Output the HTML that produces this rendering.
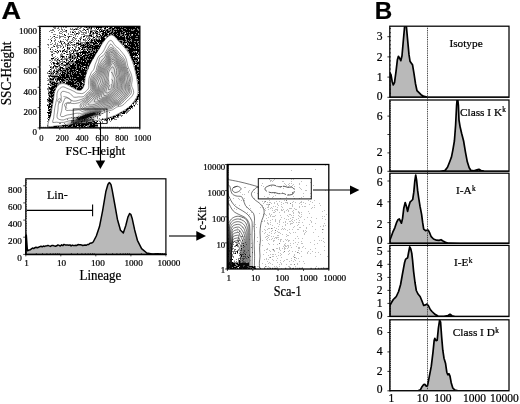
<!DOCTYPE html>
<html><head><meta charset="utf-8"><title>Figure</title>
<style>html,body{margin:0;padding:0;background:#fff}svg{display:block}text{stroke:#000;stroke-width:.22px}</style></head>
<body>
<svg width="520" height="404" viewBox="0 0 520 404">
<rect width="520" height="404" fill="#fff"/>
<text transform="translate(1.5 18.8) scale(1.09 1)" font-size="24.8" font-family='"Liberation Sans", "DejaVu Sans", sans-serif' font-weight="bold">A</text>
<text transform="translate(374.8 18.5)" font-size="24.2" font-family='"Liberation Sans", "DejaVu Sans", sans-serif' font-weight="bold">B</text>
<clipPath id="cA1"><rect x="39.8" y="26.4" width="100" height="101.5"/></clipPath>
<clipPath id="blobclip"><path d="M48 126C47 124.2 50 119 50.8 115C51.6 111 52.3 106.1 53 102C53.7 97.9 54.2 93.2 55 90.5C55.8 87.8 57 86.6 58 85.5C59 84.4 59.8 84 61 83.7C62.2 83.4 63.7 83.5 65 83.8C66.3 84.1 67.2 84.7 68.8 85.5C70.2 86.3 72.1 87.7 74 88.5C75.9 89.3 78.4 90.8 80 90.5C81.6 90.2 82.7 88.6 83.5 87C84.3 85.4 84.5 82.9 84.8 81C85.1 79.1 84.8 78.1 85.6 75.5C86.4 72.9 88.1 68.4 89.4 65.5C90.7 62.6 92 60.5 93.5 58C95 55.5 96.3 53.4 98.1 50.5C99.9 47.6 102.2 43.1 104.4 40.5C106.6 37.9 109.2 34.9 111.5 34.9C113.8 34.9 115.5 37.9 118.1 40.5C120.7 43.1 124.8 47.6 126.9 50.5C129.1 53.4 129.9 55.5 131 58C132.1 60.5 132.9 62.6 133.8 65.5C134.6 68.4 135.6 72.1 136.2 75.5C136.9 78.9 137.6 82.8 137.8 86C138 89.2 138.6 92 137.6 95C136.6 98 134 101.6 132 104C130 106.4 128.2 107.7 125.5 109.5C122.8 111.3 119.1 113.5 116 115C112.9 116.5 110.1 117.3 107 118.2C103.9 119.1 101.2 119.7 97.5 120.4C93.8 121.1 89.6 121.9 85 122.6C80.4 123.3 74.7 124.1 70 124.6C65.3 125.1 60.7 125.6 57 125.8C53.3 126 49 127.8 48 126Z"/></clipPath>
<g clip-path="url(#cA1)">
<g transform="translate(39 26) scale(0.5 1.0)"><path d="M27 0h2m8 0h2m7 0h1m3 0h1m27 0h1m3 0h1m3 0h1m4 0h2m3 0h1m2 0h4m1 0h2m2 0h1m1 0h2m1 0h6m1 0h3m1 0h2m1 0h1m1 0h10m1 0h6m1 0h1m2 0h1m1 0h18m2 0h15m1 0h1m3 0h10M28 1h1m1 0h1m1 0h1m6 0h1m4 0h1m4 0h1m2 0h1m1 0h1m21 0h1m2 0h1m2 0h1m1 0h1m6 0h2m1 0h3m1 0h1m1 0h2m1 0h3m1 0h1m1 0h1m1 0h1m1 0h14m1 0h1m2 0h4m1 0h2m2 0h1m1 0h4m1 0h1m2 0h13m1 0h3m1 0h25m1 0h8M31 2h1m1 0h1m2 0h1m2 0h1m4 0h1m18 0h1m2 0h1m5 0h1m2 0h1m1 0h1m2 0h1m2 0h1m4 0h1m7 0h1m2 0h1m1 0h2m1 0h2m5 0h1m2 0h2m2 0h2m3 0h1m1 0h1m4 0h4m4 0h1m1 0h5m1 0h7m1 0h16m1 0h1m1 0h24m1 0h4M27 3h2m11 0h1m4 0h1m1 0h1m2 0h1m11 0h1m2 0h2m2 0h4m1 0h3m1 0h1m9 0h1m1 0h2m3 0h4m3 0h1m1 0h1m8 0h1m2 0h3m1 0h1m1 0h2m1 0h2m4 0h2m1 0h1m1 0h3m2 0h1m1 0h2m1 0h4m1 0h2m1 0h1m1 0h2m1 0h5m1 0h1m1 0h8m1 0h4m1 0h3m1 0h3m1 0h1m1 0h6m2 0h2M23 4h2m1 0h1m1 0h1m10 0h1m6 0h1m5 0h1m1 0h2m13 0h1m10 0h1m2 0h1m2 0h1m2 0h1m2 0h2m5 0h1m2 0h1m2 0h1m1 0h2m1 0h1m2 0h1m1 0h1m4 0h2m2 0h2m1 0h6m1 0h4m1 0h1m1 0h4m1 0h2m1 0h17m1 0h17m1 0h1m1 0h1m1 0h10m2 0h1M21 5h1m9 0h1m11 0h1m1 0h1m3 0h2m1 0h1m2 0h1m7 0h1m3 0h1m3 0h2m5 0h1m4 0h1m1 0h1m9 0h1m2 0h1m3 0h5m4 0h2m1 0h4m3 0h9m2 0h3m1 0h6m1 0h1m1 0h4m2 0h3m1 0h13m1 0h1m1 0h31M24 6h1m2 0h1m13 0h1m4 0h1m8 0h1m7 0h1m2 0h4m3 0h1m4 0h1m1 0h1m4 0h1m1 0h2m2 0h1m1 0h1m1 0h1m2 0h1m3 0h3m2 0h3m2 0h2m1 0h2m1 0h1m2 0h1m1 0h1m3 0h8m1 0h4m1 0h1m1 0h5m1 0h13m1 0h3m1 0h6m1 0h2m1 0h3m1 0h14m1 0h6M41 7h1m1 0h1m1 0h1m12 0h1m12 0h1m2 0h5m2 0h1m7 0h1m3 0h2m5 0h1m1 0h2m3 0h4m1 0h1m1 0h4m2 0h1m3 0h1m1 0h4m1 0h5m1 0h1m2 0h6m1 0h9m1 0h5m1 0h7m1 0h1m2 0h24m1 0h3M29 8h2m2 0h1m13 0h1m2 0h2m6 0h1m3 0h1m2 0h1m1 0h1m3 0h1m1 0h1m1 0h1m2 0h1m6 0h2m2 0h2m10 0h1m1 0h2m1 0h1m1 0h1m5 0h1m2 0h1m1 0h3m1 0h1m2 0h5m1 0h7m1 0h2m1 0h2m1 0h3m1 0h4m1 0h7m1 0h2m2 0h3m1 0h9m1 0h4m3 0h4m1 0h6M36 9h1m3 0h1m10 0h3m15 0h1m2 0h1m18 0h1m1 0h1m1 0h2m2 0h7m3 0h1m4 0h2m1 0h1m4 0h3m1 0h3m1 0h6m1 0h2m1 0h1m8 0h7m1 0h6m2 0h6m2 0h1m1 0h6m1 0h2m1 0h1m1 0h15M22 10h1m5 0h1m1 0h2m9 0h1m1 0h1m1 0h1m1 0h1m1 0h1m6 0h1m2 0h3m1 0h1m1 0h1m6 0h1m4 0h1m6 0h1m3 0h4m2 0h1m2 0h1m1 0h1m1 0h2m1 0h2m1 0h2m3 0h1m1 0h1m1 0h3m1 0h2m1 0h4m1 0h4m1 0h1m1 0h3m14 0h8m1 0h6m1 0h1m1 0h2m2 0h5m1 0h2m1 0h11m1 0h1m1 0h3m1 0h1M26 11h1m6 0h1m1 0h2m4 0h2m7 0h1m2 0h1m4 0h2m8 0h2m1 0h1m10 0h1m2 0h1m2 0h1m6 0h1m3 0h1m1 0h1m6 0h4m2 0h1m2 0h2m2 0h2m1 0h7m4 0h1m18 0h18m1 0h5m1 0h23M25 12h1m4 0h1m10 0h1m16 0h1m8 0h1m2 0h1m1 0h1m2 0h1m5 0h2m1 0h1m7 0h1m4 0h2m2 0h1m1 0h1m3 0h2m4 0h1m1 0h1m3 0h2m1 0h1m1 0h9m23 0h16m1 0h9m1 0h9m1 0h1m1 0h1m1 0h5M18 13h1m4 0h1m9 0h1m15 0h1m2 0h1m3 0h1m1 0h1m8 0h1m1 0h1m3 0h1m8 0h2m4 0h2m1 0h1m1 0h1m3 0h1m2 0h2m2 0h2m1 0h2m1 0h2m1 0h3m1 0h1m1 0h3m2 0h8m25 0h16m1 0h1m1 0h8m1 0h16M24 14h2m5 0h1m1 0h1m9 0h1m11 0h1m1 0h1m6 0h1m1 0h1m3 0h1m4 0h1m2 0h2m2 0h1m6 0h2m2 0h1m1 0h1m2 0h2m3 0h6m1 0h2m1 0h18m28 0h1m1 0h1m1 0h2m1 0h1m1 0h6m1 0h4m1 0h2m1 0h2m1 0h14m1 0h1M24 15h1m5 0h1m8 0h1m2 0h2m1 0h1m1 0h2m7 0h1m4 0h2m6 0h1m9 0h2m2 0h1m9 0h1m3 0h1m3 0h1m1 0h4m3 0h5m1 0h13m32 0h6m2 0h4m2 0h5m1 0h3m1 0h5m1 0h2m1 0h3m1 0h1m1 0h2M22 16h1m10 0h1m6 0h1m2 0h1m1 0h1m4 0h2m6 0h1m2 0h1m1 0h3m1 0h1m3 0h1m3 0h1m1 0h1m1 0h1m3 0h2m1 0h1m2 0h2m2 0h7m1 0h10m1 0h4m2 0h2m1 0h6m36 0h3m1 0h10m1 0h18m1 0h5M27 17h1m4 0h1m3 0h1m7 0h2m3 0h2m2 0h1m3 0h3m2 0h1m11 0h6m1 0h3m1 0h1m1 0h1m2 0h1m1 0h1m1 0h7m1 0h1m2 0h1m1 0h11m2 0h6m39 0h1m1 0h3m1 0h2m3 0h2m1 0h12m1 0h6m1 0h3M16 18h1m2 0h1m3 0h1m1 0h1m5 0h2m3 0h1m7 0h1m1 0h1m5 0h1m2 0h2m2 0h2m3 0h1m2 0h1m1 0h4m2 0h1m2 0h7m1 0h1m1 0h2m1 0h4m1 0h3m1 0h3m1 0h1m3 0h4m1 0h1m1 0h2m1 0h1m1 0h2m1 0h2m42 0h3m1 0h2m3 0h3m1 0h2m1 0h9m1 0h5m1 0h3M19 19h1m9 0h1m5 0h2m2 0h2m1 0h1m4 0h1m4 0h1m3 0h2m1 0h1m1 0h2m3 0h1m1 0h1m1 0h1m3 0h1m2 0h2m3 0h1m1 0h9m2 0h5m1 0h7m1 0h1m1 0h9m1 0h3m46 0h7m1 0h14m1 0h7M28 20h1m1 0h2m3 0h2m5 0h1m2 0h1m3 0h1m2 0h1m4 0h1m13 0h2m1 0h1m7 0h3m2 0h3m1 0h7m1 0h5m1 0h18m48 0h8m2 0h17m1 0h3M18 21h1m6 0h2m9 0h1m2 0h1m2 0h1m5 0h2m6 0h3m1 0h1m1 0h1m3 0h2m5 0h2m3 0h3m3 0h1m1 0h8m1 0h14m1 0h9m1 0h2m50 0h11m1 0h5m1 0h4m1 0h6M23 22h1m12 0h1m9 0h1m9 0h2m1 0h3m6 0h1m4 0h1m4 0h1m1 0h2m1 0h1m2 0h3m2 0h1m3 0h1m1 0h3m1 0h1m1 0h2m1 0h15m25 0h1m1 0h1m26 0h1m1 0h14m1 0h2m1 0h3m1 0h3M22 23h2m3 0h1m4 0h1m17 0h2m5 0h1m1 0h1m1 0h1m4 0h1m3 0h3m6 0h3m2 0h5m1 0h3m1 0h1m1 0h2m1 0h5m1 0h4m1 0h3m1 0h2m1 0h2m58 0h2m1 0h22M28 24h1m7 0h2m3 0h2m3 0h1m1 0h3m3 0h1m2 0h1m5 0h1m1 0h2m2 0h1m1 0h3m1 0h3m1 0h1m3 0h1m4 0h2m1 0h1m1 0h1m2 0h3m2 0h2m1 0h1m1 0h2m1 0h1m1 0h1m1 0h5m24 0h1m7 0h1m26 0h25M22 25h1m2 0h2m4 0h4m3 0h2m2 0h2m2 0h3m1 0h1m1 0h3m1 0h1m3 0h2m3 0h1m2 0h2m1 0h1m1 0h1m1 0h2m6 0h1m1 0h11m2 0h4m1 0h4m1 0h4m1 0h4m61 0h1m1 0h9m2 0h1m1 0h1m2 0h5M24 26h1m1 0h1m8 0h2m2 0h1m6 0h1m7 0h2m1 0h1m3 0h2m5 0h2m5 0h2m2 0h24m1 0h1m2 0h9m19 0h1m6 0h1m5 0h1m31 0h7m1 0h2m1 0h4m1 0h2m1 0h3M29 27h2m5 0h1m7 0h1m3 0h1m1 0h2m8 0h1m2 0h1m1 0h4m1 0h1m1 0h1m1 0h6m2 0h2m2 0h8m1 0h4m1 0h1m1 0h8m1 0h3m33 0h1m33 0h17m1 0h3M24 28h1m1 0h2m15 0h1m1 0h1m1 0h1m6 0h1m1 0h2m1 0h1m1 0h3m1 0h1m3 0h1m1 0h1m3 0h5m1 0h1m1 0h2m1 0h2m2 0h1m1 0h2m1 0h1m1 0h9m1 0h6m69 0h14m2 0h3M25 29h2m16 0h2m2 0h1m12 0h1m1 0h3m2 0h1m1 0h4m3 0h5m1 0h4m2 0h12m1 0h11m38 0h1m31 0h8m1 0h7m2 0h2M26 30h1m5 0h1m9 0h1m1 0h7m3 0h2m3 0h1m1 0h3m1 0h3m1 0h1m1 0h2m2 0h7m1 0h1m1 0h8m1 0h1m1 0h3m1 0h4m1 0h6m44 0h2m27 0h4m2 0h1m1 0h1m4 0h1m3 0h1M29 31h2m5 0h1m5 0h1m3 0h2m1 0h2m3 0h1m3 0h1m1 0h4m1 0h4m1 0h1m1 0h3m1 0h2m2 0h1m1 0h7m1 0h3m1 0h16m30 0h1m5 0h1m2 0h1m3 0h1m1 0h1m28 0h9m1 0h1m1 0h3m1 0h1M24 32h6m2 0h1m1 0h1m3 0h1m6 0h2m3 0h1m1 0h1m1 0h1m1 0h1m2 0h2m1 0h1m2 0h3m1 0h3m1 0h1m1 0h4m3 0h6m1 0h7m1 0h12m27 0h1m17 0h1m30 0h4m1 0h7m1 0h3M25 33h1m1 0h1m2 0h1m1 0h1m3 0h2m1 0h1m3 0h4m1 0h1m2 0h1m1 0h4m4 0h4m3 0h1m1 0h1m3 0h2m2 0h15m1 0h2m1 0h1m1 0h4m1 0h3m33 0h1m7 0h1m12 0h1m24 0h12M21 34h1m1 0h1m3 0h1m2 0h1m1 0h1m1 0h1m2 0h2m1 0h2m5 0h1m6 0h2m1 0h1m1 0h1m2 0h2m2 0h3m5 0h6m1 0h3m1 0h10m1 0h10m26 0h1m2 0h1m7 0h1m12 0h1m8 0h1m21 0h3m1 0h1m1 0h1m1 0h3m2 0h1M25 35h1m9 0h2m3 0h1m2 0h1m1 0h2m1 0h1m1 0h2m2 0h1m4 0h4m1 0h5m2 0h13m1 0h3m2 0h5m1 0h9m38 0h1m2 0h1m41 0h4m1 0h3m1 0h1m1 0h3M22 36h1m3 0h1m1 0h3m5 0h3m2 0h2m3 0h1m1 0h1m2 0h3m1 0h2m1 0h2m1 0h1m1 0h2m1 0h1m1 0h1m2 0h33m84 0h1m1 0h2m1 0h1m1 0h7M25 37h1m2 0h4m1 0h8m3 0h4m6 0h6m1 0h2m2 0h2m1 0h2m1 0h2m1 0h5m1 0h13m1 0h5m1 0h3m86 0h13M25 38h1m3 0h1m1 0h1m2 0h1m1 0h3m2 0h1m1 0h2m2 0h1m1 0h2m2 0h5m1 0h4m3 0h4m1 0h3m1 0h7m1 0h15m1 0h3m36 0h1m9 0h1m41 0h2m2 0h1m1 0h3m1 0h2M21 39h1m8 0h2m1 0h1m5 0h3m2 0h1m2 0h1m1 0h6m1 0h1m2 0h1m1 0h13m1 0h10m1 0h15m27 0h1m18 0h1m16 0h1m2 0h1m24 0h4m1 0h2m1 0h2M22 40h1m1 0h1m3 0h2m1 0h8m1 0h1m2 0h1m5 0h1m3 0h2m1 0h1m1 0h1m2 0h11m1 0h1m1 0h5m1 0h7m1 0h1m3 0h3m1 0h3m24 0h1m21 0h2m13 0h1m29 0h5m1 0h1m1 0h3M22 41h2m1 0h2m1 0h2m2 0h1m2 0h2m3 0h1m1 0h6m5 0h1m1 0h2m1 0h4m1 0h12m1 0h5m1 0h3m1 0h1m1 0h8m1 0h2m54 0h1m38 0h8m1 0h1M24 42h1m2 0h1m1 0h1m2 0h1m1 0h1m4 0h2m1 0h3m1 0h4m1 0h1m1 0h6m1 0h15m1 0h9m1 0h2m2 0h3m1 0h2m1 0h2m31 0h1m5 0h1m18 0h1m20 0h1m15 0h9M22 43h2m1 0h1m4 0h1m3 0h1m1 0h1m2 0h5m2 0h1m1 0h1m2 0h2m1 0h7m1 0h5m1 0h1m1 0h3m1 0h11m1 0h6m1 0h2m1 0h1m60 0h1m8 0h1m2 0h1m22 0h5m1 0h4M20 44h1m3 0h1m4 0h3m3 0h2m1 0h3m1 0h5m1 0h6m1 0h4m1 0h1m1 0h12m1 0h1m2 0h18m41 0h1m11 0h1m43 0h3m1 0h2m1 0h1M19 45h4m2 0h1m2 0h3m1 0h1m1 0h4m1 0h1m1 0h1m1 0h1m1 0h3m1 0h1m1 0h3m1 0h4m1 0h8m1 0h3m1 0h8m1 0h8m1 0h4m20 0h1m5 0h1m3 0h1m27 0h1m2 0h1m9 0h1m27 0h6m1 0h1M17 46h1m5 0h1m1 0h2m2 0h3m2 0h1m1 0h2m1 0h1m3 0h1m1 0h8m2 0h5m1 0h4m1 0h5m1 0h3m1 0h19m31 0h1m6 0h1m9 0h1m4 0h1m13 0h1m14 0h1m16 0h4m1 0h3M17 47h2m1 0h3m1 0h3m1 0h2m2 0h1m1 0h2m1 0h1m1 0h1m1 0h3m2 0h2m1 0h5m1 0h9m1 0h3m1 0h5m1 0h5m1 0h2m1 0h11m25 0h1m3 0h1m8 0h1m35 0h1m24 0h3m1 0h4M22 48h1m1 0h1m2 0h1m1 0h1m3 0h1m1 0h1m1 0h2m1 0h1m1 0h1m1 0h8m1 0h6m2 0h4m1 0h16m1 0h11m28 0h1m5 0h1m39 0h1m7 0h1m18 0h7M19 49h2m1 0h2m1 0h2m2 0h1m1 0h2m1 0h1m2 0h1m2 0h2m1 0h10m1 0h7m1 0h5m1 0h17m1 0h5m1 0h1m51 0h1m3 0h1m6 0h1m3 0h1m5 0h1m29 0h3m1 0h2M19 50h3m1 0h17m1 0h4m1 0h7m1 0h7m1 0h14m1 0h1m1 0h14m48 0h1m6 0h1m1 0h2m21 0h1m22 0h6M21 51h1m5 0h1m1 0h4m2 0h1m1 0h26m1 0h2m1 0h25m17 0h1m10 0h1m32 0h1m16 0h1m25 0h6M17 52h1m3 0h4m1 0h1m1 0h3m1 0h1m1 0h1m1 0h9m1 0h2m1 0h5m1 0h2m1 0h1m1 0h3m1 0h3m1 0h2m1 0h2m1 0h16m1 0h1m22 0h1m20 0h1m8 0h1m7 0h1m8 0h1m34 0h6M19 53h1m1 0h9m2 0h3m1 0h14m1 0h1m1 0h5m1 0h33m25 0h1m28 0h1m24 0h1m26 0h4M17 54h1m1 0h2m2 0h1m1 0h1m1 0h1m1 0h1m2 0h1m2 0h3m1 0h3m2 0h8m1 0h2m1 0h1m1 0h2m1 0h2m1 0h4m1 0h6m1 0h10m1 0h3m1 0h1m28 0h1m13 0h1m20 0h1m16 0h1m8 0h1m15 0h1m1 0h3M20 55h1m1 0h3m2 0h1m1 0h1m1 0h1m2 0h2m1 0h1m3 0h4m1 0h3m1 0h1m2 0h2m1 0h1m1 0h7m1 0h4m1 0h2m1 0h11m1 0h1m1 0h3m37 0h2m16 0h1m8 0h1m13 0h1m28 0h4M20 56h1m1 0h3m1 0h7m1 0h1m2 0h2m2 0h3m1 0h1m1 0h5m2 0h16m1 0h5m1 0h2m1 0h6m2 0h1m1 0h1m26 0h1m60 0h1m19 0h4M18 57h1m4 0h5m1 0h9m1 0h1m1 0h2m10 0h22m1 0h5m1 0h7m27 0h1m6 0h1m1 0h1m16 0h1m5 0h1m28 0h1m20 0h4M17 58h4m1 0h1m2 0h7m1 0h3m1 0h2m18 0h13m1 0h1m1 0h2m1 0h1m1 0h2m1 0h6m1 0h3m35 0h1m9 0h1m32 0h1m29 0h3M22 59h2m1 0h1m1 0h1m1 0h8m25 0h3m1 0h11m1 0h2m1 0h4m2 0h3m27 0h1m14 0h1m27 0h1m19 0h1m18 0h3M18 60h1m6 0h11m28 0h15m1 0h7m1 0h1m22 0h1m2 0h1m3 0h1m23 0h1m2 0h1m15 0h2m36 0h3M18 61h1m1 0h2m1 0h9m1 0h2m33 0h1m1 0h5m2 0h6m1 0h4m25 0h1m19 0h1m6 0h1m7 0h1m6 0h1m3 0h1m11 0h1m5 0h1m21 0h3M17 62h2m1 0h11m1 0h1m39 0h2m1 0h12m19 0h1m34 0h1m19 0h1m37 0h3M17 63h1m1 0h1m1 0h8m1 0h3m43 0h9m64 0h1m14 0h1m34 0h3M18 64h1m3 0h1m1 0h8m79 0h1m19 0h1m6 0h1m13 0h1m6 0h2m38 0h1m1 0h1M18 65h1m2 0h5m1 0h3m95 0h1m6 0h1m1 0h1m3 0h2m18 0h1m7 0h1m33 0h2M19 66h12m81 0h1m21 0h1m64 0h2M18 67h2m1 0h8m78 0h1m5 0h1m15 0h1m6 0h1m25 0h1m37 0h2M19 68h2m1 0h1m1 0h2m1 0h3m80 0h1m13 0h1m3 0h1m6 0h1m17 0h1m21 0h1m22 0h4M19 69h4m1 0h6m96 0h1m3 0h1m21 0h3m43 0h4M20 70h9m95 0h1m15 0h1m2 0h1m1 0h1m5 0h1m13 0h1m30 0h6M19 71h2m1 0h1m1 0h2m1 0h2m68 0h1m12 0h1m6 0h1m24 0h1m16 0h1m4 0h1m31 0h3m1 0h1M19 72h3m2 0h1m1 0h3m65 0h1m4 0h1m11 0h1m15 0h1m1 0h1m18 0h1m46 0h3m1 0h1M16 73h2m1 0h5m1 0h4m70 0h1m7 0h1m11 0h1m1 0h1m1 0h1m38 0h1m30 0h6M17 74h11m73 0h1m3 0h1m10 0h1m1 0h1m39 0h1m33 0h1m1 0h2m4 0h1M17 75h2m1 0h8m103 0h1m3 0h1m18 0h1m36 0h4m1 0h1M18 76h1m1 0h1m2 0h5m81 0h1m15 0h1m15 0h2m46 0h1m1 0h2m2 0h1M20 77h4m1 0h2m69 0h1m17 0h1m2 0h1m1 0h1m3 0h1m5 0h1m19 0h2m36 0h3m3 0h2M17 78h1m1 0h6m77 0h1m34 0h3m2 0h1m46 0h1m2 0h1m3 0h1M16 79h3m1 0h2m2 0h3m80 0h1m29 0h1m6 0h1m13 0h1m25 0h2m3 0h3M18 80h8m82 0h1m11 0h1m11 0h1m13 0h1m34 0h7m2 0h1M18 81h5m1 0h2m93 0h1m7 0h1m7 0h1m44 0h2m1 0h3m1 0h1M18 82h2m2 0h1m1 0h1m72 0h1m78 0h8m3 0h1M18 83h1m1 0h5m69 0h1m2 0h1m7 0h1m3 0h1m18 0h1m2 0h1m3 0h1m38 0h4m1 0h1m2 0h1M18 84h5m1 0h1m73 0h1m1 0h1m6 0h1m13 0h1m7 0h2m41 0h1m1 0h3m2 0h1m1 0h1M20 85h1m1 0h3m96 0h2m8 0h1m36 0h6m1 0h2m1 0h1M16 86h9m67 0h1m1 0h1m1 0h1m2 0h1m2 0h1m6 0h1m7 0h1m4 0h1m18 0h1m21 0h3m1 0h6m1 0h1m2 0h1M18 87h6m64 0h1m2 0h1m5 0h1m2 0h1m2 0h1m4 0h1m2 0h1m5 0h1m2 0h2m4 0h1m33 0h1m2 0h2m1 0h6m2 0h1M19 88h1m2 0h2m54 0h1m13 0h2m2 0h1m2 0h1m2 0h1m3 0h2m2 0h1m2 0h2m1 0h1m3 0h1m36 0h3m1 0h2M18 89h6m69 0h1m1 0h2m2 0h1m1 0h1m3 0h2m14 0h2m31 0h6m1 0h1m1 0h2m2 0h1M19 90h4m55 0h1m4 0h1m2 0h2m6 0h1m2 0h2m14 0h1m2 0h1m31 0h6m2 0h2m1 0h1m5 0h1M18 91h4m42 0h1m6 0h1m3 0h3m4 0h1m3 0h1m1 0h2m1 0h2m4 0h1m4 0h3m4 0h1m6 0h1m25 0h2m1 0h2m1 0h3m2 0h1m1 0h1m1 0h1m1 0h1M17 92h1m2 0h1m48 0h1m7 0h1m3 0h1m5 0h2m3 0h1m1 0h1m3 0h1m5 0h1m12 0h1m2 0h1m6 0h1m8 0h1m1 0h2m1 0h1m2 0h6m1 0h1M18 93h2m36 0h1m17 0h1m4 0h3m4 0h1m3 0h2m1 0h1m1 0h2m6 0h1m3 0h1m1 0h1m16 0h3m1 0h1m1 0h3m1 0h2m2 0h2m2 0h3m3 0h1m1 0h1m1 0h1M18 94h1m46 0h1m1 0h3m17 0h1m3 0h1m15 0h2m16 0h1m5 0h1m1 0h3m1 0h1m3 0h1m3 0h1M17 95h1m47 0h1m1 0h1m16 0h3m4 0h1m2 0h1m1 0h1m10 0h5m3 0h3m3 0h1m1 0h1m2 0h1m9 0h1m6 0h1M65 96h1m6 0h1m1 0h1m3 0h1m5 0h1m9 0h2m1 0h10m2 0h7m11 0h1m9 0h1M41 97h1m1 0h1m7 0h1m19 0h2m6 0h3m1 0h2m1 0h7m1 0h6m1 0h4m1 0h12m10 0h1M52 98h1m10 0h9m1 0h3m1 0h6m1 0h16m1 0h5m1 0h5m1 0h1m1 0h2M17 99h1m28 0h13m1 0h6m1 0h6m1 0h17m1 0h5m1 0h1m1 0h1m1 0h16M17 100h1m11 0h8m1 0h2m1 0h1m1 0h1m1 0h1m1 0h3m1 0h3m1 0h1m1 0h8m1 0h1m1 0h8m3 0h4m1 0h5m1 0h2m1 0h1m3 0h2m1 0h12m1 0h2m2 0h1M19 101h19m1 0h1m3 0h2m1 0h2m4 0h9m2 0h5m1 0h1m1 0h3m1 0h4m2 0h2m1 0h1m1 0h2m1 0h1m1 0h5m1 0h1m1 0h2m1 0h2m1 0h1m1 0h3m1 0h2m1 0h1" stroke="#000" stroke-width="1.03" fill="none" transform="translate(0 0.5)"/></g>
<path d="M48 126C47 124.2 50 119 50.8 115C51.6 111 52.3 106.1 53 102C53.7 97.9 54.2 93.2 55 90.5C55.8 87.8 57 86.6 58 85.5C59 84.4 59.8 84 61 83.7C62.2 83.4 63.7 83.5 65 83.8C66.3 84.1 67.2 84.7 68.8 85.5C70.2 86.3 72.1 87.7 74 88.5C75.9 89.3 78.4 90.8 80 90.5C81.6 90.2 82.7 88.6 83.5 87C84.3 85.4 84.5 82.9 84.8 81C85.1 79.1 84.8 78.1 85.6 75.5C86.4 72.9 88.1 68.4 89.4 65.5C90.7 62.6 92 60.5 93.5 58C95 55.5 96.3 53.4 98.1 50.5C99.9 47.6 102.2 43.1 104.4 40.5C106.6 37.9 109.2 34.9 111.5 34.9C113.8 34.9 115.5 37.9 118.1 40.5C120.7 43.1 124.8 47.6 126.9 50.5C129.1 53.4 129.9 55.5 131 58C132.1 60.5 132.9 62.6 133.8 65.5C134.6 68.4 135.6 72.1 136.2 75.5C136.9 78.9 137.6 82.8 137.8 86C138 89.2 138.6 92 137.6 95C136.6 98 134 101.6 132 104C130 106.4 128.2 107.7 125.5 109.5C122.8 111.3 119.1 113.5 116 115C112.9 116.5 110.1 117.3 107 118.2C103.9 119.1 101.2 119.7 97.5 120.4C93.8 121.1 89.6 121.9 85 122.6C80.4 123.3 74.7 124.1 70 124.6C65.3 125.1 60.7 125.6 57 125.8C53.3 126 49 127.8 48 126Z" fill="none" stroke="#222" stroke-width="0.55"/>
<linearGradient id="gg" gradientUnits="userSpaceOnUse" x1="78" y1="0" x2="94" y2="0"><stop offset="0" stop-color="#fff"/><stop offset="1" stop-color="#dedede"/></linearGradient>
<path d="M63.3 118.5L61.3 118.5L59.8 117.9L58.9 116.9L58.7 115.4L59 113.9L59.5 112.4L59.9 110.9L60.1 108.9L60.3 106.9L60.4 105.4L60.8 103.5L61.3 102.3L62.1 100.9L62.8 99.5L63.2 97.9L63.3 96.4L63.7 94.4L65.3 94.3L66.3 94.9L67.6 95.9L68.8 96.8L69.8 97.5L71.2 98.4L72.3 99.1L73.8 99.6L75.8 99.6L77.3 99.2L78.8 98.8L80.8 98.4L82.3 98.2L83.8 97.6L84.8 96.9L85.8 95.7L86.7 94.4L87.5 93.4L88.7 92.4L89.8 91.6L90.8 90.7L91.4 89.4L91.5 87.4L91.2 85.9L90.9 83.9L90.9 81.9L91.1 79.9L91.3 78.4L91.9 76.9L92.8 75.4L93.6 74.4L94.7 73.4L95.7 72.4L96.4 71.4L97 69.9L97.4 68.4L97.8 66.5L98.3 65.1L98.9 63.9L99.6 62.4L100.1 60.9L100.5 59.4L101.3 58.3L102.8 57.4L103.8 56.7L104.7 55.4L105.3 54.2L106 52.9L106.8 51.4L107.4 50.4L108.3 49.1L109.1 47.9L109.8 46.9L111.3 46.1L112.3 46.9L113.3 48L114.3 48.9L115.5 49.9L116.5 50.9L117.3 52L118.3 53.3L119.3 54.4L120.3 55.3L121.3 56.3L122.3 57.4L123 58.4L123.8 59.9L124.3 61.1L124.8 62.9L125.1 64.4L125.5 65.9L126 67.4L126.6 68.9L127.2 70.4L127.8 71.9L128.3 73.3L128.8 74.9L129.3 76.4L129.8 77.9L130 79.4L129.8 81.4L129.6 82.9L129.4 84.9L129.6 86.9L130 88.4L130.4 89.9L130.6 91.9L130 93.4L129.2 94.4L128.3 95.5L127.3 96.7L126.3 97.7L125.3 98.7L124.3 99.6L123.3 100.7L122.3 101.8L121.3 102.9L120.3 103.6L118.8 104.2L117.3 104.5L115.8 104.9L114.3 105.7L113.3 106.5L112.2 107.4L110.8 108.1L109.3 108.4L107.3 108.8L105.8 109.2L104.3 109.8L103 110.4L101.6 110.9L99.9 111.4L98.3 111.8L96.8 112.1L95 112.4L93.3 112.6L91.8 112.9L89.8 113.4L88.3 113.8L86.8 114.2L85.3 114.5L83.8 114.9L82.2 115.4L80.3 115.6L78.3 115.5L76.8 115.3L75.3 115.4L73.6 115.9L71.8 116.3L70.3 116.4L68.3 116.7L66.8 117L65.3 117.6L63.8 118.3Z" fill="url(#gg)" filter="url(#bl0)"/>
<filter id="bl0"><feGaussianBlur stdDeviation="0.8"/></filter>
<path d="M63.8 122.4L61.8 122.4L59.8 122.5L58.2 122.4L56.3 122.2L54.8 122.4L52.8 122.5L52.7 120.9L53.3 119.4L53.7 117.9L53.8 116.3L54.1 114.4L54.3 112.4L54.4 110.9L54.7 108.9L54.9 107.4L55.3 105.4L55.7 103.9L55.9 102.4L56.3 100.6L56.8 98.9L57 97.4L56.9 95.4L57.1 93.4L57.5 91.9L58.2 90.4L59 89.4L60 88.4L61.3 87.4L62.6 86.9L63.8 86.9L65.3 87.5L66.8 88.3L68.3 88.9L69.8 89.4L71 89.9L72.3 90.6L73.8 91.3L74.9 91.9L76.3 92.8L77.8 93.2L79.8 93.4L81.3 93.6L82.9 93.4L84.3 92.6L85.3 91.8L86.3 90.9L87.5 89.9L88.3 88.8L88.8 87.3L88.8 85.4L88.7 83.9L88.7 81.9L88.8 80.4L89 78.4L89.5 76.9L90.2 75.4L90.7 73.9L91.3 72.6L92.2 71.4L93.1 70.4L93.8 69.3L94.3 67.9L94.8 65.9L95.2 64.4L95.8 62.9L96.3 61.7L96.8 60.4L97.3 58.9L98 57.4L98.8 56.2L99.8 55.1L100.8 54.2L101.8 53.2L102.8 52.1L103.6 50.9L104.3 49.6L104.9 48.4L105.6 46.9L106.3 45.4L106.8 44.4L107.8 42.9L108.4 41.9L109.3 40.9L110.8 40.3L111.9 40.9L112.8 42L113.6 43.4L114.3 44.4L115.3 45.7L116.3 46.6L117.4 47.4L118.7 48.4L119.6 49.4L120.4 50.4L121.3 51.5L122.3 52.7L123.2 53.9L124 54.9L124.8 56L125.5 57.4L126.1 58.9L126.6 60.4L126.9 61.9L127.3 63.9L127.6 65.4L128.1 66.9L128.7 68.4L129.3 69.8L129.8 70.9L130.6 72.4L131.1 73.9L131.6 75.4L131.9 76.9L132.2 78.9L132.1 80.9L131.8 82.7L131.6 84.4L131.8 86.4L132.3 87.7L132.9 88.9L133.4 90.4L133.7 92.4L133.3 93.9L132.5 95.4L131.8 96.4L130.8 97.5L129.8 98.6L128.8 99.5L127.7 100.4L126.6 101.4L125.7 102.4L124.8 103.4L123.8 104.4L122.4 105.4L121.3 105.9L119.3 106.4L117.8 106.7L116.3 107.3L115.3 108L114 108.9L112.8 109.7L111.3 110.2L109.8 110.6L108.3 110.9L106.8 111.4L105.3 112.1L103.8 112.9L102.6 113.4L101 113.9L99.4 114.4L97.8 114.9L96.3 115.1L94.3 115.1L92.3 115.1L90.8 115.4L89.1 115.9L87.5 116.4L86.3 116.9L84.8 117.7L83.6 118.4L82.3 119.2L81 119.9L79.8 120.5L77.8 120.5L75.8 120.7L73.8 120.9L71.8 120.6L69.8 120.7L68.3 121L66.8 121.5L65.3 122L63.8 122.4ZM63.3 120L61.3 119.9L59.8 119.6L58.3 119L57.3 118L57 116.4L57.2 114.4L57.5 112.9L57.8 111.1L58 109.4L58.1 107.4L58.2 105.4L58.5 103.9L59 102.4L59.8 101L60.6 99.9L61.2 98.4L61.2 96.4L60.8 94.4L60.9 93.4L61.7 91.9L62.8 91.3L64.3 91.4L65.8 91.9L67.5 92.4L69.1 92.9L70.3 93.7L71.3 94.7L72.3 95.9L73.3 96.8L74.8 97.3L76.8 97.2L78.3 96.9L80.3 96.9L81.8 96.9L83.3 96.7L84.5 95.9L85.4 94.9L86.3 93.8L87.3 92.7L88.3 91.9L89.5 90.9L90.4 89.9L90.8 88.4L90.8 86.8L90.5 84.9L90.3 82.9L90.4 80.9L90.5 78.9L91 77.4L91.7 75.9L92.3 74.9L93.3 73.6L94.3 72.7L95.3 71.7L96.1 70.4L96.5 68.9L96.8 67.4L97.3 65.6L97.8 64.2L98.4 62.9L98.8 61.4L99.2 59.4L99.8 57.9L100.8 56.9L101.8 56.4L103.3 55.4L104.2 54.4L104.8 53.4L105.7 51.9L106.3 50.8L107.1 49.4L107.8 48.4L108.6 46.9L109.3 45.6L110 44.4L111 43.9L112 44.9L112.8 46.1L113.8 47.3L114.8 48.3L115.8 49.2L116.8 50.1L117.8 51.3L118.6 52.4L119.5 53.4L120.6 54.4L121.6 55.4L122.5 56.4L123.3 57.5L124.1 58.9L124.8 60.4L125.2 61.9L125.5 63.4L125.8 64.9L126.3 66.6L126.8 68.1L127.3 69.4L128 70.9L128.6 72.4L129.2 73.9L129.7 75.4L130.2 76.9L130.6 78.4L130.6 80.4L130.3 82.3L130 83.9L130 85.9L130.3 87.4L130.8 88.9L131.3 90.5L131.4 92.4L130.8 93.9L130 94.9L129 95.9L128.1 96.9L127.2 97.9L126.1 98.9L125 99.9L124 100.9L123.2 101.9L122.3 102.9L121.1 103.9L119.8 104.5L118 104.9L116.3 105.3L115.1 105.9L113.8 106.9L112.8 107.7L111.7 108.4L110 108.9L108.3 109.2L106.8 109.6L105.3 110.1L103.8 110.8L102.3 111.4L100.8 111.8L99.3 112.2L97.8 112.6L96.2 112.9L94.3 113.1L92.4 113.4L90.8 113.7L89.3 114.1L87.8 114.6L86.3 115L84.8 115.6L83.3 116.2L82 116.9L80.8 117.4L78.8 117.9L76.8 117.7L74.8 117.9L73.3 118L71.3 118L69.3 118.1L67.8 118.4L66.3 118.9L64.8 119.5L63.3 120ZM63.3 116.6L61.3 116.6L60.4 115.4L60.8 113.4L61.3 111.9L61.7 110.4L61.9 108.9L62.2 106.9L62.3 105.4L62.8 103.4L63.3 102.2L63.9 100.9L64.5 99.4L65.3 98L66.8 97.8L68.2 98.4L69.3 99L70.8 99.9L71.8 100.5L73.3 101.1L75.3 101.1L76.8 100.8L78.3 100.4L80 99.9L81.3 99.4L83 98.9L84.3 98.2L85.3 97.4L86.3 96L87 94.9L87.8 93.9L89 92.9L90.3 92L91.3 91.2L92 89.9L92 87.9L91.8 86.3L91.5 84.4L91.4 82.4L91.6 80.4L91.8 78.8L92.3 77.4L93.2 75.9L94 74.9L95 73.9L96 72.9L96.8 71.9L97.5 70.4L97.9 68.9L98.3 67L98.8 65.5L99.4 64.4L100.3 62.9L101 61.9L101.8 60.5L102.7 59.4L103.8 58.4L104.6 57.4L105.3 56L105.8 54.7L106.4 53.4L107.2 51.9L107.8 50.9L108.8 49.5L109.7 48.4L110.8 47.5L112.3 48L113.4 48.9L114.6 49.9L115.6 50.9L116.4 51.9L117.3 53.1L118.3 54.3L119.3 55.3L120.3 56.3L121.3 57.3L122.2 58.4L122.8 59.4L123.6 60.9L124.1 62.4L124.5 63.9L124.9 65.4L125.3 66.9L125.9 68.4L126.5 69.9L127.1 71.4L127.6 72.9L128.1 74.4L128.5 75.9L128.9 77.4L129.3 79L129.3 80.9L129.1 82.4L128.9 84.4L128.9 86.4L129.3 88L129.7 89.9L129.8 91.4L129.4 92.9L128.7 93.9L127.8 95L126.8 96.3L125.8 97.4L124.8 98.3L123.8 99.3L122.8 100.4L121.9 101.4L121 102.4L119.8 103.3L118.3 103.8L116.8 104.1L115.3 104.5L113.8 105.4L112.8 106.3L111.8 107L110.3 107.6L108.8 107.9L106.8 108.3L105.3 108.8L103.8 109.4L102.7 109.9L101.3 110.4L99.7 110.9L97.8 111.3L96.3 111.6L94.6 111.9L92.8 112.2L91.3 112.5L89.5 112.9L87.8 113.3L86.3 113.6L84.5 113.9L82.8 114.1L81 113.9L79.8 113.3L77.8 113.2L75.8 113.3L74.3 113.7L72.8 114.1L71.1 114.4L69.3 114.7L67.8 114.9L66 115.4L64.8 115.9L63.3 116.6ZM88.3 112L86.3 112.1L84.3 112.1L82.8 111.8L81.3 111L80.3 110.2L78.8 109.8L77.3 110L75.3 110.3L73.8 110.4L72.3 110.4L70.3 110.3L68.6 110.4L66.8 110.6L65.7 109.9L65.7 107.9L66 106.4L66.4 104.9L66.8 103.4L67.8 102.3L69.3 102.5L70.8 103.2L72.3 103.5L74.3 103.6L75.8 103.4L77.8 103L79.3 102.7L80.5 101.9L81.8 101L83.1 100.4L84.3 99.8L85.4 98.9L86.3 97.9L87.3 96.4L87.9 95.4L88.9 94.4L90.3 93.4L91.3 92.8L92.4 91.9L93.1 90.4L93.1 88.4L92.8 86.8L92.5 84.9L92.4 82.9L92.6 80.9L92.9 79.4L93.4 77.9L94.3 76.5L95.2 75.4L96.1 74.4L97.1 73.4L97.8 72.4L98.5 70.9L98.9 69.4L99.3 67.7L99.8 66.2L100.5 64.9L101.4 63.9L102.4 62.9L103.5 61.9L104.3 60.9L105.3 59.5L105.9 58.4L106.4 56.9L106.8 55.4L107.4 53.9L108.1 52.4L108.8 51.4L109.8 50.2L111.3 49.4L112.8 50L114 50.9L115 51.9L115.8 52.9L116.8 54.3L117.7 55.4L118.7 56.4L119.7 57.4L120.6 58.4L121.3 59.4L122.2 60.9L122.8 62.3L123.3 63.7L123.8 65.3L124.3 66.7L124.8 68.1L125.3 69.4L125.9 70.9L126.4 72.4L126.8 73.9L127.1 75.9L127.4 77.4L127.7 79.4L127.9 80.9L127.9 82.9L127.8 84.9L128 86.9L128.3 88.5L128.5 90.4L128.2 91.9L127.3 93.4L126.6 94.4L125.8 95.6L124.8 96.8L123.8 97.7L122.8 98.7L121.8 99.8L120.8 100.9L119.8 101.9L118.8 102.5L117.3 103L115.6 103.4L114.3 103.9L112.8 104.8L111.8 105.5L110.3 106.3L108.8 106.7L107.3 106.9L105.4 107.4L104.1 107.9L102.8 108.5L101.3 109.2L99.8 109.8L98.3 110.1L96.8 110.4L94.8 110.8L93.3 111.1L91.6 111.4L89.8 111.7L88.3 112ZM90.8 110.4L88.8 110.7L86.8 110.7L84.8 110.4L83.3 109.9L82.2 109.4L81 108.4L80.3 107.4L80.1 105.4L80.7 103.9L81.6 102.9L82.8 102L83.9 101.4L85.3 100.5L86.3 99.5L87 98.4L87.8 97.2L88.8 96L89.8 95.1L90.8 94.4L92.3 93.5L93.3 92.7L94.1 91.4L94.2 89.4L93.9 87.4L93.5 85.9L93.3 83.9L93.6 81.9L93.8 80.4L94.3 78.9L95.2 77.4L96 76.4L96.8 75.4L97.8 74.2L98.7 72.9L99.3 71.7L99.8 70.2L100.3 68.4L100.7 66.9L101.3 65.9L102.3 64.8L103.3 63.9L104.4 62.9L105.3 61.9L106.2 60.4L106.8 59.2L107.3 57.7L107.8 55.9L108.3 54.4L108.8 53.3L109.8 51.9L110.8 51.1L112.8 51.3L113.8 52.1L114.8 53.3L115.6 54.4L116.4 55.4L117.3 56.5L118.3 57.6L119.3 58.7L120.2 59.9L120.8 61L121.5 62.4L122.1 63.9L122.7 65.4L123.3 66.8L123.8 68L124.3 69.4L124.9 70.9L125.3 72.4L125.8 74.4L125.8 75.9L125.8 77.4L125.8 78.9L126.2 80.9L126.5 82.4L126.7 84.4L126.8 86.4L127 87.9L127.1 89.9L126.7 91.4L125.9 92.9L125.3 94L124.4 95.4L123.5 96.4L122.5 97.4L121.4 98.4L120.5 99.4L119.6 100.4L118.4 101.4L117.3 101.9L115.5 102.4L114 102.9L112.8 103.5L111.3 104.3L110.1 104.9L108.3 105.3L106.8 105.6L105.3 105.9L103.8 106.5L102.3 107.3L101.3 107.9L99.8 108.6L98.3 109L96.3 109.4L94.8 109.7L93.3 110L91.3 110.3ZM89.3 109.4L87.3 109.5L85.8 109.2L84.3 108.8L82.8 108L81.8 106.9L81.6 105.4L82.3 104.2L83.3 103.2L84.5 102.4L85.8 101.4L86.7 100.4L87.4 99.4L88.3 98.2L89.3 97L90.3 96.1L91.3 95.4L92.8 94.4L93.8 93.6L94.8 92.5L95.3 91.1L95.3 89.8L94.9 87.9L94.6 86.4L94.3 84.4L94.6 82.4L95 80.9L95.6 79.4L96.3 78.2L97.2 76.9L97.9 75.9L98.8 74.7L99.6 73.4L100.3 72L100.8 70.4L101.2 68.9L101.7 67.4L102.3 66.4L103.3 65.4L104.5 64.4L105.5 63.4L106.3 62.3L107.1 60.9L107.8 59.4L108.3 57.9L108.6 56.4L109.1 54.9L109.8 53.6L110.8 52.5L112.3 52.4L113.3 53.1L114.3 54.2L115.2 55.4L116 56.4L116.8 57.4L117.8 58.5L118.8 59.8L119.5 60.9L120.3 62.4L120.8 63.5L121.4 64.9L122.1 66.4L122.8 67.9L123.3 69.3L123.8 70.8L124.3 72.4L124.6 73.9L124.6 75.9L124.4 77.9L124.5 79.9L124.8 81.7L125.2 83.4L125.5 84.9L125.6 86.9L125.7 88.9L125.3 90.7L124.7 91.9L123.9 93.4L123.3 94.5L122.3 95.7L121.3 96.7L120.3 97.7L119.3 98.7L118.3 99.7L117.3 100.5L115.8 101.1L114.3 101.7L112.8 102.3L111.3 102.9L110.1 103.4L108.3 103.8L106.8 104.1L105.3 104.5L103.8 104.9L102.3 105.7L101.2 106.4L99.8 107.2L98.3 107.9L96.8 108.2L95.3 108.5L93.3 108.8L91.8 109.1L89.8 109.3ZM87.8 108.4L86.3 108L84.8 107.5L83.8 106.8L83.6 104.9L84.5 103.9L85.8 102.9L86.8 101.9L87.5 100.9L88.3 99.9L89.3 98.7L90.3 97.6L91.3 96.7L92.4 95.9L93.8 94.9L94.8 94L95.7 92.9L96.3 91.4L96.3 89.9L96.1 88.4L95.7 86.9L95.5 84.9L95.8 82.9L96.3 81.4L96.8 80.2L97.5 78.9L98.3 77.6L99.1 76.4L99.8 75.3L100.6 73.9L101.3 72.4L101.7 70.9L102.1 69.4L102.7 67.9L103.3 66.9L104.3 65.9L105.4 64.9L106.3 63.9L107.3 62.4L107.8 61.4L108.5 59.9L109.1 58.4L109.5 56.9L110.1 55.4L110.8 54.3L112.3 53.9L113.3 54.6L114.3 55.8L115.2 56.9L116 57.9L116.9 58.9L117.8 60.1L118.6 61.4L119.3 62.7L119.8 63.9L120.6 65.4L121.3 66.9L121.8 68L122.3 69.4L122.8 71L123.2 72.9L123.4 74.4L123.4 76.4L123.3 78L123.3 79.9L123.5 81.4L123.8 83L124.2 84.9L124.3 86.9L124.2 88.9L123.7 90.4L122.9 91.9L122.3 93.2L121.5 94.4L120.6 95.4L119.5 96.4L118.4 97.4L117.4 98.4L116.3 99.4L115.3 100L113.8 100.6L112.3 101.3L110.8 101.8L109.3 102.2L107.8 102.6L106.3 102.9L104.4 103.4L102.9 103.9L101.8 104.4L100.3 105.3L99.3 105.9L97.8 106.6L96.3 107L94.6 107.4L92.8 107.7L91.3 107.9L89.3 108.1L87.8 108.4ZM88.3 107L86.8 106.8L85.6 105.9L86 104.4L86.8 103.4L87.8 102.2L88.8 101.3L89.8 100.2L90.8 99.1L91.8 98L92.8 97.1L93.8 96.2L94.8 95.3L95.8 94.3L96.8 92.9L97.3 91.4L97.4 89.9L97.2 88.4L96.9 86.4L97 84.4L97.6 82.9L98.3 81.4L98.8 80.1L99.3 78.9L100.1 77.4L100.8 76.1L101.5 74.9L102.1 73.4L102.6 71.9L102.9 70.4L103.4 68.9L104.2 67.4L105.2 66.4L106.2 65.4L107 64.4L107.8 63.2L108.5 61.9L109.2 60.4L109.8 58.9L110.3 57.7L110.9 56.4L112.3 55.6L113.4 56.4L114.4 57.4L115.3 58.5L116.3 59.6L117.2 60.9L117.8 61.9L118.5 63.4L119.3 64.9L119.8 65.9L120.5 67.4L121.2 68.9L121.6 70.4L121.9 71.9L122.1 73.9L122.3 75.9L122.3 77.4L122.3 78.9L122.3 80.4L122.5 82.4L122.8 84.4L122.9 85.9L122.8 87.9L122.5 89.4L121.8 90.9L121.3 91.9L120.4 93.4L119.5 94.4L118.5 95.4L117.3 96.4L116.3 97.3L115.3 98.2L114.3 98.9L112.8 99.7L111.3 100.4L109.8 100.8L108.3 101.2L106.8 101.6L105.3 102L103.8 102.4L102.2 102.9L100.8 103.5L99.3 104.2L97.9 104.9L96.6 105.4L95 105.9L93.3 106.3L91.8 106.5L89.8 106.7L88.3 107ZM92.3 104.9L90.3 105L88.3 105L87.8 104.4L89.1 103.4L90.1 102.4L91 101.4L92 100.4L92.8 99.4L93.8 98.1L94.7 96.9L95.6 95.9L96.5 94.9L97.3 93.9L98 92.4L98.4 90.9L98.4 88.9L98.4 86.9L98.8 85.1L99.5 83.9L100.3 82.5L100.7 80.9L101 79.4L101.5 77.9L102.2 76.4L102.8 75.2L103.3 73.8L103.7 71.9L104 70.4L104.5 68.9L105.3 67.7L106.3 66.6L107.3 65.5L108.1 64.4L108.8 63.1L109.4 61.9L110.1 60.4L110.8 59L111.6 57.9L113.3 57.9L114.3 58.8L115.3 59.9L116.1 60.9L116.8 62L117.5 63.4L118.2 64.9L118.8 66L119.5 67.4L120.2 68.9L120.5 70.4L120.7 72.4L120.9 73.9L121.2 75.9L121.3 77.4L121.3 79.4L121.3 81.4L121.4 83.4L121.6 85.4L121.5 87.4L121.3 88.9L120.6 90.4L119.8 91.8L119 92.9L118 93.9L116.9 94.9L115.8 95.9L114.8 96.8L113.8 97.6L112.6 98.4L111.3 99.1L109.8 99.6L108.3 100.1L106.8 100.5L105.2 100.9L103.5 101.4L101.9 101.9L100.4 102.4L99 102.9L97.5 103.4L95.9 103.9L94.5 104.4L92.8 104.8ZM97.8 101.9L95.8 102.1L94.3 101.7L94.5 100.4L95.2 98.9L95.8 97.7L96.6 96.4L97.4 95.4L98.3 94L98.9 92.9L99.4 91.4L99.6 89.4L99.8 87.7L100.3 86.2L101.1 84.9L101.8 83.8L102.3 82.4L102.6 80.4L102.9 78.9L103.4 77.4L104 75.9L104.5 74.4L104.8 72.4L105 70.9L105.4 69.4L106.3 68L107.3 66.9L108.2 65.9L108.8 64.9L109.5 63.4L110.3 61.9L110.8 60.9L111.8 59.6L113.1 59.4L114.3 60.3L115.2 61.4L115.9 62.4L116.7 63.9L117.3 65.2L118 66.4L118.7 67.9L119.2 69.4L119.4 70.9L119.4 72.9L119.7 74.9L120.1 76.4L120.3 77.9L120.4 79.9L120.3 81.4L120.2 83.4L120.3 85.4L120.2 87.4L119.8 89.3L119.2 90.4L118.3 91.7L117.3 92.8L116.3 93.7L115.3 94.6L114.3 95.5L113.2 96.4L111.9 97.4L110.8 98L109.3 98.7L107.8 99.1L106.3 99.6L104.8 100L103.3 100.5L101.8 100.9L100 101.4L98.3 101.8ZM99.3 100.4L97.8 100.4L97 98.9L97.5 97.4L98.3 95.9L98.9 94.9L99.8 93.4L100.3 92.1L100.7 90.4L100.9 88.9L101.3 87.4L102.1 85.9L102.8 84.9L103.6 83.4L104 81.9L104.3 80.2L104.7 78.4L105.2 76.9L105.6 75.4L105.9 73.9L106 71.9L106.3 70.4L107 68.9L107.8 67.9L108.8 66.8L109.6 65.4L110.3 63.9L110.8 62.8L111.8 61.4L113.3 61.1L114.3 62L115.2 63.4L115.8 64.6L116.5 65.9L117.3 67.4L117.8 68.6L118.2 70.4L118.1 72.4L118.2 74.4L118.7 75.9L119.2 77.4L119.4 78.9L119.3 80.4L119 82.4L118.9 84.4L119 86.4L118.8 88.4L118.3 89.6L117.4 90.9L116.5 91.9L115.4 92.9L114.3 93.9L113.3 94.8L112.3 95.7L111.3 96.4L109.8 97.3L108.4 97.9L106.9 98.4L105.3 98.9L103.8 99.3L102.3 99.7L100.8 100.1L99.3 100.4ZM101.3 98.9L99.7 98.9L99.1 97.4L99.7 95.9L100.3 94.7L100.9 93.4L101.5 91.9L101.9 90.4L102.3 88.5L102.8 87.3L103.6 85.9L104.3 84.7L105 83.4L105.4 81.9L105.8 80.4L106.3 78.5L106.7 76.9L107 75.4L107.2 73.4L107.4 71.9L107.8 70.2L108.6 68.9L109.4 67.9L110.3 66.5L110.8 65.3L111.5 63.9L112.6 62.9L113.6 63.4L114.3 64.5L115 65.9L115.7 67.4L116.3 68.6L116.7 70.4L116.5 72.4L116.7 74.4L117.3 75.8L117.8 77L118.2 78.9L118 80.9L117.7 82.4L117.5 84.4L117.7 86.4L117.5 88.4L116.8 89.7L115.8 90.9L114.8 91.9L113.8 92.9L112.8 93.9L111.8 94.7L110.8 95.5L109.4 96.4L108.3 96.9L106.8 97.4L105.3 97.9L103.5 98.4L101.8 98.8ZM102.3 97.4L101.2 96.9L101.4 95.4L102 93.9L102.5 92.4L103 90.9L103.3 89.4L103.8 87.9L104.6 86.4L105.3 85.1L105.9 83.9L106.6 82.4L107 80.9L107.5 79.4L107.9 77.9L108.3 75.9L108.5 74.4L108.8 72.4L109.2 70.9L109.8 69.8L110.8 68.5L111.7 67.4L112.8 66.8L113.6 67.9L114.3 69.4L114.6 70.9L114.8 72.9L115.1 74.4L115.7 75.9L116.3 77L116.8 78.7L116.8 79.9L116.4 81.9L116.2 83.4L116.2 85.4L116.3 86.9L116.1 88.4L115.3 89.8L114.3 90.9L113.3 91.9L112.3 92.9L111.3 93.8L110.3 94.6L109.1 95.4L107.8 96.1L106.3 96.6L104.8 97L102.8 97.4ZM105.8 95.5L103.9 95.4L103.6 93.9L103.9 92.4L104.3 90.9L104.8 89.2L105.3 87.8L105.9 86.4L106.7 84.9L107.3 83.8L107.9 82.4L108.4 80.9L108.9 79.4L109.4 77.9L109.8 76.2L110.3 74.4L110.8 72.9L111.8 72.2L112.5 73.4L113 74.9L113.7 76.4L114.3 77.4L114.8 78.9L114.8 80.9L114.7 82.4L114.7 84.4L114.8 85.9L114.8 87.6L114.3 88.9L113.3 90.2L112.3 91.3L111.3 92.2L110.3 93.1L109.3 93.9L107.8 94.8L106.3 95.3ZM107.8 93L105.8 92.9L105.8 91.7L106.2 89.9L106.6 88.4L107.2 86.9L107.8 85.5L108.4 84.4L109.1 82.9L109.8 81.4L110.3 80.3L111.3 79.1L112.4 79.9L112.8 81.7L113 83.4L113.3 84.9L113.5 86.9L113 88.4L112.3 89.4L111.3 90.5L110.3 91.4L108.9 92.4L107.8 93ZM108.8 89.9L108.3 88.9L108.6 87.4L109.2 85.9L109.8 84.9L111.3 84.3L111.8 85.4L111.9 87.4L111.3 88.4L110.2 89.4L108.8 89.9Z" fill="none" stroke="#222" stroke-width="0.55" opacity="0.9"/>
<path d="M57.6 100.6C57.6 99.9 58.9 98.6 59.6 98.6C60.3 98.6 61.6 99.7 61.6 100.4C61.6 101.1 60.5 102.8 59.8 102.8C59.1 102.8 57.6 101.3 57.6 100.6ZM63.5 96.5C64.2 96.7 66.2 96.8 67.5 97.5C68.8 98.2 70.7 99.5 71 100.5C71.3 101.5 70.3 103.1 69.5 103.5C68.7 103.9 66.8 102.7 66 103C65.2 103.3 64.3 104.6 64.5 105.5C64.7 106.4 66.6 108 67 108.5" fill="none" stroke="#333" stroke-width="0.5"/>
<path d="M110.3 70.5C110.7 70.5 111.2 73.2 111.4 75C111.6 76.8 111.4 79.2 111.2 81C111 82.8 110.6 86 110.3 86C110 86 109.5 82.8 109.3 81C109.1 79.2 109 76.8 109.2 75C109.4 73.2 109.9 70.5 110.3 70.5Z" fill="#fff"/>
<filter id="bl" x="-20%" y="-100%" width="140%" height="300%"><feGaussianBlur stdDeviation="1.3"/></filter>
<g clip-path="url(#blobclip)"><ellipse cx="87" cy="116.6" rx="15" ry="3.2" fill="#000" opacity="0.6" filter="url(#bl)" transform="rotate(-18 87 116.6)"/>
<ellipse cx="81" cy="121.8" rx="15" ry="1.6" fill="#000" opacity="0.55" filter="url(#bl)" transform="rotate(-8 81 121.8)"/></g>
<ellipse cx="86.5" cy="116.2" rx="10" ry="1.8" fill="#000" opacity="0.85" transform="rotate(-19 86.5 116.2)"/>
<ellipse cx="82" cy="121.3" rx="12" ry="1.0" fill="#000" opacity="0.55" transform="rotate(-9 82 121.3)"/>
</g>
<rect x="73.2" y="109" width="33.8" height="14.6" fill="none" stroke="#111" stroke-width="0.85"/>
<rect x="39.8" y="26.4" width="100" height="101.5" fill="none" stroke="#000" stroke-width="1.4"/>
<path d="M37.6 127.9h2.2M39.8 127.9v2M39.8 125.9h1.2M41.8 126.7v1.2M39.8 123.8h1.2M43.8 126.7v1.2M39.8 121.8h1.2M45.8 126.7v1.2M39.8 119.8h1.2M47.8 126.7v1.2M39.8 117.8h1.2M49.8 126.7v1.2M39.8 115.7h1.2M51.8 126.7v1.2M39.8 113.7h1.2M53.8 126.7v1.2M39.8 111.7h1.2M55.8 126.7v1.2M39.8 109.6h1.2M57.8 126.7v1.2M37.6 107.6h2.2M59.8 127.9v2M39.8 105.6h1.2M61.8 126.7v1.2M39.8 103.5h1.2M63.8 126.7v1.2M39.8 101.5h1.2M65.8 126.7v1.2M39.8 99.5h1.2M67.8 126.7v1.2M39.8 97.5h1.2M69.8 126.7v1.2M39.8 95.4h1.2M71.8 126.7v1.2M39.8 93.4h1.2M73.8 126.7v1.2M39.8 91.4h1.2M75.8 126.7v1.2M39.8 89.3h1.2M77.8 126.7v1.2M37.6 87.3h2.2M79.8 127.9v2M39.8 85.3h1.2M81.8 126.7v1.2M39.8 83.2h1.2M83.8 126.7v1.2M39.8 81.2h1.2M85.8 126.7v1.2M39.8 79.2h1.2M87.8 126.7v1.2M39.8 77.2h1.2M89.8 126.7v1.2M39.8 75.1h1.2M91.8 126.7v1.2M39.8 73.1h1.2M93.8 126.7v1.2M39.8 71.1h1.2M95.8 126.7v1.2M39.8 69h1.2M97.8 126.7v1.2M37.6 67h2.2M99.8 127.9v2M39.8 65h1.2M101.8 126.7v1.2M39.8 62.9h1.2M103.8 126.7v1.2M39.8 60.9h1.2M105.8 126.7v1.2M39.8 58.9h1.2M107.8 126.7v1.2M39.8 56.9h1.2M109.8 126.7v1.2M39.8 54.8h1.2M111.8 126.7v1.2M39.8 52.8h1.2M113.8 126.7v1.2M39.8 50.8h1.2M115.8 126.7v1.2M39.8 48.7h1.2M117.8 126.7v1.2M37.6 46.7h2.2M119.8 127.9v2M39.8 44.7h1.2M121.8 126.7v1.2M39.8 42.6h1.2M123.8 126.7v1.2M39.8 40.6h1.2M125.8 126.7v1.2M39.8 38.6h1.2M127.8 126.7v1.2M39.8 36.6h1.2M129.8 126.7v1.2M39.8 34.5h1.2M131.8 126.7v1.2M39.8 32.5h1.2M133.8 126.7v1.2M39.8 30.5h1.2M135.8 126.7v1.2M39.8 28.4h1.2M137.8 126.7v1.2M37.6 26.4h2.2M139.8 127.9v2" stroke="#000" stroke-width="0.7" fill="none"/>
<text x="37" y="134.6" font-size="9.0" text-anchor="end" font-family='"Liberation Serif", "DejaVu Serif", serif' font-weight="normal" >0</text>
<text x="37" y="114.5" font-size="9.0" text-anchor="end" font-family='"Liberation Serif", "DejaVu Serif", serif' font-weight="normal" >200</text>
<text x="37" y="94.5" font-size="9.0" text-anchor="end" font-family='"Liberation Serif", "DejaVu Serif", serif' font-weight="normal" >400</text>
<text x="37" y="74.4" font-size="9.0" text-anchor="end" font-family='"Liberation Serif", "DejaVu Serif", serif' font-weight="normal" >600</text>
<text x="37" y="54.4" font-size="9.0" text-anchor="end" font-family='"Liberation Serif", "DejaVu Serif", serif' font-weight="normal" >800</text>
<text x="37" y="34.3" font-size="9.0" text-anchor="end" font-family='"Liberation Serif", "DejaVu Serif", serif' font-weight="normal" >1000</text>
<text x="41.5" y="140.7" font-size="9.0" text-anchor="middle" font-family='"Liberation Serif", "DejaVu Serif", serif' font-weight="normal" textLength="4.3" lengthAdjust="spacingAndGlyphs">0</text>
<text x="62.3" y="140.7" font-size="9.0" text-anchor="middle" font-family='"Liberation Serif", "DejaVu Serif", serif' font-weight="normal" textLength="12.9" lengthAdjust="spacingAndGlyphs">200</text>
<text x="82.2" y="140.7" font-size="9.0" text-anchor="middle" font-family='"Liberation Serif", "DejaVu Serif", serif' font-weight="normal" textLength="12.9" lengthAdjust="spacingAndGlyphs">400</text>
<text x="102" y="140.7" font-size="9.0" text-anchor="middle" font-family='"Liberation Serif", "DejaVu Serif", serif' font-weight="normal" textLength="12.9" lengthAdjust="spacingAndGlyphs">600</text>
<text x="121.8" y="140.7" font-size="9.0" text-anchor="middle" font-family='"Liberation Serif", "DejaVu Serif", serif' font-weight="normal" textLength="12.9" lengthAdjust="spacingAndGlyphs">800</text>
<text x="142.6" y="140.7" font-size="9.0" text-anchor="middle" font-family='"Liberation Serif", "DejaVu Serif", serif' font-weight="normal" textLength="17.2" lengthAdjust="spacingAndGlyphs">1000</text>
<text x="95.3" y="154.8" font-size="12.7" text-anchor="middle" font-family='"Liberation Serif", "DejaVu Serif", serif' font-weight="normal" textLength="59.6" lengthAdjust="spacingAndGlyphs">FSC-Height</text>
<text transform="translate(10.9 73.4) rotate(-90) scale(1.015 1.1)" font-size="13" text-anchor="middle" font-family='"Liberation Serif", "DejaVu Serif", serif'>SSC-Height</text>
<path d="M100.5 122V162" stroke="#000" stroke-width="1.1"/>
<path d="M95.6 160.4H105.2L100.4 169Z" fill="#000"/>
<path d="M25.8 254.4L25.8 236L26.3 235L27.4 250.8L29 250L30.2 249.8L31.4 248.9L32.6 248L33.7 248.6L34.9 247.7L36 247.2L37.2 247.7L38.5 247.2L39.8 246.6L41 246.2L42.2 246.8L43.3 246.1L44.5 246.4L45.7 245.9L46.8 245.7L48 245.4L49.2 245.9L50.5 246.4L51.7 245.5L53 245.5L54.2 245.9L55.4 246.3L56.7 245.8L57.9 244.9L59.1 245.4L60.3 246L61.6 244.8L62.8 245.6L64 244.4L65.2 244.9L66.4 244.9L67.6 244.9L68.8 245.3L70 244.9L71.1 245.9L72.3 245.1L73.4 245.6L74.6 245.6L75.7 245.2L76.9 245.4L78 244.6L79.2 244.8L80.3 244.7L81.5 244.9L82.7 245.5L83.9 245.2L85.1 245L86.2 245.3L87.4 244.5L88.7 244.5L90 243.3L91.6 243.1L93.2 242L96.3 236L99.5 226.6L102.6 210.8L105.8 191.8L107.9 184.5L109.2 182.6L110 183.2L111 184.6L112.1 189.7L114.8 204.5L117.4 219.2L120.5 230.2L123.3 232.9L125.8 225.5L127.9 217.1L129.6 213.5L130.8 214.3L132.1 218.2L134.6 229.7L137.4 240.3L141.6 248.7L146.8 253L152 254L157.4 253.8L165.9 254.2L165.9 254.4Z" fill="#b9b9b9" stroke="#000" stroke-width="1.5" stroke-linejoin="round"/>
<rect x="25.8" y="178.8" width="140.1" height="75.6" fill="none" stroke="#000" stroke-width="1.2"/>
<path d="M23.2 254.4h2.6M25.8 252.7h1.1M25.8 251h1.1M25.8 249.3h1.1M25.8 247.5h1.1M25.8 245.8h1.1M25.8 244.1h1.1M25.8 242.4h1.1M25.8 240.7h1.1M25.8 239h1.1M23.2 237.2h2.6M25.8 235.5h1.1M25.8 233.8h1.1M25.8 232.1h1.1M25.8 230.4h1.1M25.8 228.7h1.1M25.8 227h1.1M25.8 225.2h1.1M25.8 223.5h1.1M25.8 221.8h1.1M23.2 220.1h2.6M25.8 218.4h1.1M25.8 216.7h1.1M25.8 215h1.1M25.8 213.2h1.1M25.8 211.5h1.1M25.8 209.8h1.1M25.8 208.1h1.1M25.8 206.4h1.1M25.8 204.7h1.1M23.2 202.9h2.6M25.8 201.2h1.1M25.8 199.5h1.1M25.8 197.8h1.1M25.8 196.1h1.1M25.8 194.4h1.1M25.8 192.7h1.1M25.8 190.9h1.1M25.8 189.2h1.1M25.8 187.5h1.1M23.2 185.8h2.6M25.8 184.1h1.1M25.8 182.4h1.1M25.8 180.7h1.1M25.8 254.4v2M36.3 253.2v1.2M42.5 253.2v1.2M46.9 253.2v1.2M50.3 253.2v1.2M53.1 253.2v1.2M55.4 253.2v1.2M57.4 253.2v1.2M59.2 253.2v1.2M60.8 254.4v2M71.4 253.2v1.2M77.5 253.2v1.2M81.9 253.2v1.2M85.3 253.2v1.2M88.1 253.2v1.2M90.4 253.2v1.2M92.5 253.2v1.2M94.2 253.2v1.2M95.8 254.4v2M106.4 253.2v1.2M112.6 253.2v1.2M116.9 253.2v1.2M120.3 253.2v1.2M123.1 253.2v1.2M125.4 253.2v1.2M127.5 253.2v1.2M129.3 253.2v1.2M130.9 254.4v2M141.4 253.2v1.2M147.6 253.2v1.2M152 253.2v1.2M155.4 253.2v1.2M158.1 253.2v1.2M160.5 253.2v1.2M162.5 253.2v1.2M164.3 253.2v1.2M165.9 254.4v2" stroke="#000" stroke-width="0.7" fill="none"/>
<text x="21.9" y="261.2" font-size="9.2" text-anchor="end" font-family='"Liberation Serif", "DejaVu Serif", serif' font-weight="normal" >0</text>
<text x="21.9" y="244.1" font-size="9.2" text-anchor="end" font-family='"Liberation Serif", "DejaVu Serif", serif' font-weight="normal" >200</text>
<text x="21.9" y="226.9" font-size="9.2" text-anchor="end" font-family='"Liberation Serif", "DejaVu Serif", serif' font-weight="normal" >400</text>
<text x="21.9" y="209.8" font-size="9.2" text-anchor="end" font-family='"Liberation Serif", "DejaVu Serif", serif' font-weight="normal" >600</text>
<text x="21.9" y="192.6" font-size="9.2" text-anchor="end" font-family='"Liberation Serif", "DejaVu Serif", serif' font-weight="normal" >800</text>
<text x="26.6" y="266.2" font-size="9.2" text-anchor="middle" font-family='"Liberation Serif", "DejaVu Serif", serif' font-weight="normal" >1</text>
<text x="61.5" y="266.2" font-size="9.2" text-anchor="middle" font-family='"Liberation Serif", "DejaVu Serif", serif' font-weight="normal" >10</text>
<text x="97.9" y="266.2" font-size="9.2" text-anchor="middle" font-family='"Liberation Serif", "DejaVu Serif", serif' font-weight="normal" >100</text>
<text x="133.6" y="266.2" font-size="9.2" text-anchor="middle" font-family='"Liberation Serif", "DejaVu Serif", serif' font-weight="normal" >1000</text>
<text x="168.9" y="266.2" font-size="9.2" text-anchor="middle" font-family='"Liberation Serif", "DejaVu Serif", serif' font-weight="normal" >10000</text>
<text x="100.4" y="280" font-size="14.0" text-anchor="middle" font-family='"Liberation Serif", "DejaVu Serif", serif' font-weight="normal" textLength="41.8" lengthAdjust="spacingAndGlyphs">Lineage</text>
<text x="47" y="199.4" font-size="12" text-anchor="start" font-family='"Liberation Serif", "DejaVu Serif", serif' font-weight="normal" >Lin-</text>
<path d="M26.5 210.4H92.6M92.6 204.4V216.2" stroke="#000" stroke-width="1.1" fill="none"/>
<path d="M169 236H198" stroke="#000" stroke-width="1.1"/>
<path d="M196.3 231V240.8L206 236Z" fill="#000"/>
<clipPath id="cA3"><rect x="227.4" y="164.5" width="101.4" height="104.5"/></clipPath>
<g clip-path="url(#cA3)">
<g transform="translate(227 164) scale(0.5 1.0)"><path d="M196 1h1M177 5h1M128 6h1M84 15h1m9 0h1m33 0h1m3 0h1M86 16h1m1 0h1m3 0h1M87 17h1m3 0h1m18 0h1m1 0h1m15 0h1m20 0h1M167 18h1M70 19h1m44 0h1m8 0h1m4 0h1m15 0h1M117 20h1m5 0h1m9 0h1m11 0h1M68 21h1m50 0h1m4 0h1m5 0h1m28 0h1m13 0h1M72 22h1m16 0h1m9 0h1m12 0h1m9 0h1m5 0h1m6 0h1M34 23h1m2 0h1m69 0h1m36 0h1M113 24h1m20 0h1m11 0h1M53 25h1m81 0h1m12 0h1M45 26h1m111 0h1m1 0h1m36 0h1M43 27h1M27 28h1m15 0h1m10 0h1m56 0h1m18 0h2m70 0h1M61 29h1m32 0h1m35 0h1m22 0h1m13 0h1M30 30h1m3 0h1m49 0h1m37 0h1M97 31h1M74 32h1m18 0h1m39 0h1m18 0h1m13 0h1M1 33h1m2 0h1m76 0h1m1 0h1m7 0h1m27 0h1m29 0h1M12 34h1m10 0h1m10 0h1m20 0h1m51 0h1m26 0h1m9 0h1m21 0h1M24 35h1M4 36h1m23 0h1m5 0h1m50 0h1m29 0h1m2 0h2m42 0h1m12 0h1M70 37h1m4 0h3m20 0h1m6 0h1m27 0h1m15 0h1m16 0h1M74 38h1m5 0h1m4 0h2m7 0h1m13 0h1m7 0h1m1 0h1m2 0h1m9 0h1m5 0h1m8 0h1m2 0h1m3 0h1m17 0h1M73 39h1m15 0h1m5 0h1m5 0h1m11 0h1m6 0h1m5 0h2m16 0h1m11 0h1m28 0h1M16 40h1m62 0h2m1 0h1m1 0h2m14 0h1m8 0h1m20 0h1m18 0h1m15 0h1M25 41h1m18 0h1m26 0h1m10 0h1m20 0h1m27 0h1m43 0h1m11 0h1M82 42h1m10 0h1m2 0h1m11 0h1m22 0h1m12 0h1m6 0h1m2 0h1m2 0h1M38 43h1m27 0h1m6 0h1m6 0h1m2 0h1m4 0h1m12 0h1m8 0h1m33 0h1m26 0h1m2 0h1M15 44h1m30 0h1m29 0h1m9 0h1m3 0h1m33 0h1m1 0h1m1 0h1m5 0h1m33 0h1M18 45h1m56 0h1m7 0h1m12 0h1m1 0h1m2 0h1m6 0h1m4 0h1m6 0h1m15 0h1m2 0h1M77 46h1m12 0h1m4 0h1m5 0h1m6 0h1m1 0h1m8 0h1m3 0h1m8 0h1m62 0h1M96 47h1m17 0h1m8 0h1m6 0h1m11 0h1m20 0h1m27 0h1M40 48h1m7 0h1m43 0h1m1 0h1m9 0h1m9 0h1m17 0h1m10 0h2m3 0h1M65 49h1m9 0h1m8 0h1m48 0h1m11 0h1m19 0h1M45 50h1m27 0h1m2 0h1m7 0h1m4 0h1m35 0h1m1 0h1m20 0h1m50 0h1M79 51h1m6 0h1m9 0h1m10 0h1m13 0h1m7 0h1m2 0h1m9 0h1M86 52h1m3 0h1m1 0h1m2 0h1m27 0h1m20 0h1m4 0h1m41 0h1m2 0h1M31 53h1m51 0h1m25 0h1m20 0h1m2 0h1m12 0h1m13 0h1m7 0h1M27 54h1m50 0h1m35 0h1m11 0h1m16 0h1m34 0h1m11 0h1M90 55h1m5 0h1m9 0h1m12 0h1m2 0h1m7 0h1m8 0h1m15 0h1m40 0h1M75 56h1m5 0h1m5 0h1m9 0h1m6 0h1m23 0h1m6 0h1m9 0h1m20 0h1M71 57h1m2 0h1m22 0h1m7 0h1m10 0h1m7 0h1m2 0h1m3 0h1m37 0h1M80 58h1m5 0h1m18 0h1m6 0h1m4 0h1m14 0h1m5 0h1m3 0h1m2 0h1m5 0h1m17 0h1M81 59h2m18 0h1m19 0h1m4 0h1m1 0h1m1 0h1m45 0h1m18 0h1M56 60h1m25 0h1m3 0h1m17 0h1m11 0h1m9 0h1m15 0h1m22 0h1M91 61h1m24 0h1m23 0h1m12 0h1m39 0h1m2 0h1M52 62h1m24 0h1m25 0h1m6 0h1m24 0h1m34 0h1m16 0h1m5 0h1m9 0h1M30 63h1m28 0h1m34 0h1m37 0h1m12 0h1m1 0h1m11 0h1M21 64h1m61 0h2m3 0h2m1 0h1m6 0h1m11 0h1m3 0h1m44 0h1M75 65h1m5 0h1m20 0h1m5 0h1m3 0h1m4 0h1m6 0h1m6 0h1m8 0h1m1 0h1m33 0h1m13 0h2m1 0h1M76 66h1m14 0h1m4 0h2m22 0h1m31 0h1m3 0h1M20 67h1m50 0h1m16 0h1m11 0h1m52 0h1m5 0h1M34 68h1m42 0h1m6 0h1m11 0h1m6 0h2m20 0h1m7 0h1m2 0h1m19 0h1m15 0h1m18 0h1M74 69h1m13 0h1m5 0h1m12 0h1m18 0h1m28 0h1M46 70h1m34 0h1m29 0h1m7 0h1m35 0h1M82 71h1m2 0h1m14 0h1m1 0h1m18 0h2M35 72h1m42 0h1m2 0h1m7 0h1m2 0h1m25 0h1m22 0h1m41 0h1M61 73h1m14 0h1m6 0h1m13 0h2m1 0h1m1 0h1M81 74h1m8 0h1m3 0h1m3 0h1m38 0h1m4 0h1m7 0h1m41 0h1M35 75h1m9 0h1m32 0h1m6 0h1m2 0h1m14 0h1m2 0h1m2 0h1m6 0h1m4 0h1M71 76h1m9 0h1m10 0h1m1 0h1m11 0h1m12 0h1m2 0h1m2 0h1m7 0h1m40 0h1m10 0h1m2 0h1M61 77h1m31 0h1m13 0h1m5 0h1m9 0h1m25 0h1m43 0h1M136 78h1m5 0h1m24 0h1m27 0h1M33 79h1m15 0h1m33 0h1m20 0h2m10 0h1m10 0h1m5 0h1m15 0h1m1 0h1m29 0h1M21 80h1m42 0h1m19 0h1m8 0h1m7 0h1m12 0h1m25 0h1m34 0h1M70 81h1m44 0h2m4 0h1m1 0h1m3 0h1M113 82h1m2 0h1m2 0h1m2 0h1m16 0h1m12 0h1m41 0h1M105 83h1m8 0h1m7 0h1m6 0h1m12 0h1m1 0h1m5 0h1M81 84h1m17 0h2m4 0h1m4 0h1m3 0h1m1 0h1m3 0h1m22 0h2m12 0h1m19 0h1M17 85h1m61 0h1m1 0h1m8 0h1m1 0h2m10 0h1m9 0h1m52 0h1M32 86h1m41 0h1m9 0h1m8 0h1m1 0h1m10 0h1m17 0h1m18 0h1m50 0h1M18 87h1m68 0h1m7 0h1m18 0h2m6 0h1m8 0h1m5 0h1m11 0h1m12 0h1m7 0h1M39 88h1m38 0h1m23 0h1m9 0h1m27 0h2m1 0h1m16 0h1m15 0h1m5 0h1M107 89h1m16 0h1m19 0h1m15 0h1m6 0h1M30 90h1m13 0h1m28 0h1m13 0h1m2 0h1m1 0h1m4 0h1m11 0h1m13 0h1m10 0h1m51 0h1M83 91h1m19 0h1m2 0h1m28 0h1M32 92h1m57 0h1m1 0h1m6 0h1m32 0h1m15 0h1m27 0h1m24 0h1M84 93h1m1 0h2m21 0h1m24 0h2m1 0h1M26 94h1m52 0h1m21 0h1m27 0h1m9 0h1m3 0h1M74 95h1m3 0h1m4 0h1m6 0h1m28 0h2m13 0h1M15 96h1m31 0h1m44 0h1m5 0h1m8 0h1m7 0h1m13 0h1m6 0h1M3 97h1m31 0h1m44 0h1m31 0h1m11 0h1m7 0h1m12 0h1m7 0h1M6 98h1m77 0h1m16 0h1m5 0h1M16 99h1m53 0h1m12 0h1m3 0h1m21 0h1m31 0h1m12 0h1M11 100h1m8 0h1m20 0h1m35 0h1m13 0h1m13 0h1m3 0h1m9 0h1m7 0h2m5 0h2m4 0h1M17 101h1M4 102h1m25 0h1m30 0h1m1 0h1m12 0h3m3 0h1m12 0h1m3 0h1m5 0h1m17 0h1m1 0h1m11 0h1m40 0h1M3 103h1m1 0h1m58 0h1m9 0h1m10 0h1m14 0h1m24 0h1m1 0h1m23 0h1m40 0h1M13 104h1m67 0h1m3 0h1m23 0h1m20 0h2M80 105h1m5 0h1m25 0h1m13 0h1m7 0h1m15 0h1m40 0h1" stroke="#808080" stroke-width="1.03" fill="none" transform="translate(0 0.5)"/></g>
<g transform="translate(227 164) scale(0.5 1.0)"><path d="M25 67h1M28 72h1m2 0h1M0 74h3M0 75h3M0 76h2m23 0h1m5 0h1M0 77h1m1 0h1m7 0h1m4 0h1m6 0h1M0 78h3m10 0h1m3 0h1m1 0h1m17 0h1M1 79h2m4 0h1m15 0h1m6 0h1m1 0h1M0 80h3m6 0h1m3 0h1m5 0h2m18 0h1M0 81h3m14 0h4m8 0h1m2 0h2M0 82h3m7 0h1m3 0h1m1 0h1m3 0h1m8 0h1m5 0h1M0 83h3m4 0h1m24 0h1m16 0h1M0 84h4m7 0h1m1 0h1m14 0h2M0 85h3m6 0h2m3 0h1m2 0h1m5 0h1m5 0h1M0 86h3m2 0h1m2 0h1m6 0h1m4 0h1m2 0h1m2 0h1m1 0h1m5 0h1m8 0h1M0 87h3m1 0h1m3 0h1m2 0h2m2 0h1m1 0h2m1 0h2m12 0h1M0 88h3m5 0h1m3 0h1m4 0h1m2 0h2m4 0h1m5 0h1m18 0h1M0 89h1m1 0h1m3 0h1m1 0h2m2 0h1m2 0h3m2 0h1m4 0h1m9 0h1M0 90h4m7 0h1m14 0h2m1 0h2m2 0h1m2 0h2M0 91h3m7 0h1m14 0h1m2 0h2m14 0h1M0 92h4m5 0h2m1 0h1m15 0h2m2 0h1m1 0h1m1 0h1m3 0h1m5 0h1M0 93h3m5 0h2m2 0h1m13 0h1m9 0h1m5 0h2M0 94h3m5 0h2m12 0h1m2 0h2m4 0h2m2 0h1m3 0h1M0 95h3m3 0h2m2 0h2m6 0h1m4 0h1m2 0h1m5 0h1M0 96h3m3 0h1m16 0h3m4 0h1M0 97h3m4 0h1m6 0h1m3 0h1m3 0h1m1 0h3m6 0h1M0 98h1m1 0h1m1 0h3m3 0h2m1 0h1m1 0h2m1 0h1m2 0h1m1 0h3m1 0h1m3 0h2m1 0h1m2 0h1m5 0h1M0 99h6m1 0h10m1 0h4m1 0h21M0 100h8m2 0h6m1 0h2m1 0h24M0 101h5m1 0h13m1 0h1m1 0h10m1 0h2m1 0h8M0 102h4m1 0h10m1 0h1m1 0h7m1 0h7m1 0h6m1 0h1m1 0h9m1 0h4M0 103h10m1 0h9m1 0h1m2 0h19m2 0h2m1 0h1m1 0h6m1 0h1M1 104h3m1 0h10m1 0h2m1 0h4m1 0h7m1 0h8m1 0h5m2 0h2m2 0h1m1 0h4M0 105h5m1 0h2m2 0h3m1 0h4m1 0h2m1 0h1m2 0h5m1 0h6m2 0h3m1 0h1m1 0h1m1 0h1m1 0h2m1 0h2m1 0h1m1 0h1" stroke="#000" stroke-width="1.03" fill="none" transform="translate(0 0.5)"/></g>
<path d="M227.5 179.5C229.3 179.8 234.9 180.8 238.6 181.6C242.3 182.4 246.2 183.4 249.5 184.3C252.8 185.2 257.3 186.4 258.4 187C259.5 187.6 257.3 186.9 256.3 187.7C255.3 188.5 253 190.6 252.2 191.8C251.4 193.1 251.2 193.9 251.6 195.2C251.9 196.4 252.8 197.8 254.3 199.3C255.8 200.8 258.8 202.3 260.4 204C262 205.7 263.2 207.7 263.8 209.5C264.4 211.3 264.1 213.2 263.8 215C263.5 216.8 262.3 218.7 261.8 220.4C261.3 222.1 261 223.1 260.7 225C260.4 226.9 260.1 229.5 260 232C259.9 234.5 260.5 237.3 260.4 240C260.3 242.7 259.7 245.3 259.6 248C259.5 250.7 260 253.7 260 256C260 258.3 259.5 260 259.4 262C259.3 264 259.6 267 259.6 268M233.2 187.7C233.9 187.5 236 186.2 237.3 186.3C238.6 186.4 240.7 187.6 241 188.4C241.3 189.2 240.3 190.4 239.3 191.1C238.3 191.8 236.3 192.6 235.2 192.5C234.1 192.4 232.8 191.2 232.5 190.4C232.2 189.6 232.4 188.4 233.2 187.7C234 187 236.6 186.5 237.3 186.3M227.5 184.5C227.9 184.8 229.1 184.9 229.8 186.3C230.5 187.8 230.8 191.6 231.8 193.2C232.8 194.8 234.3 195.3 235.9 195.9C237.5 196.5 240.1 195.9 241.3 196.6C242.6 197.3 242.7 198.5 243.4 200C244.1 201.5 244.4 203.8 245.4 205.4C246.4 207 248.1 208.1 249.5 209.5C250.9 210.9 252.8 212 253.6 213.6C254.4 215.2 254.4 217.1 254.5 219C254.6 220.9 254.2 222.3 254.2 225C254.2 227.7 254.6 231.7 254.6 235C254.6 238.3 254.2 241.7 254.2 245C254.2 248.3 254.6 251.2 254.6 255C254.6 258.8 254.4 265.8 254.3 268M227.5 193C227.7 193.4 227.7 193.7 228.4 195.2C229.1 196.7 230.6 200.1 231.8 202C233.1 203.9 234.1 205.3 235.9 206.8C237.7 208.3 240.6 209.5 242.7 210.9C244.8 212.3 246.7 213.4 248.2 215C249.7 216.6 250.9 218.7 251.6 220.4C252.3 222.1 252.1 222.4 252.2 225C252.3 227.6 252 232.2 252 236C252 239.8 252.3 242.7 252.3 248C252.3 253.3 252.1 264.7 252 268M227.5 201C227.7 201.3 227.5 201 228.4 202.7C229.3 204.3 231.3 208.8 233.2 210.9C235.1 213 238 213.9 240 215C242 216.1 243.9 216.4 245.4 217.7C246.9 218.9 248.1 220.8 248.8 222.5C249.5 224.2 249.6 225.1 249.8 228C250 230.9 250 233.3 250 240C250 246.7 250 263.3 250 268M228.6 268C228.7 261.4 228.7 236.1 228.9 228.3C229.1 220.5 229 223.1 229.8 221.3C230.6 219.5 232 218.3 233.5 217.5C235 216.7 236.6 216.1 238.6 216.3C240.6 216.5 243.9 217.6 245.5 218.9C247.1 220.2 247.6 222.1 248.2 224.3C248.8 226.5 248.8 225 249 232.3C249.2 239.6 249.2 262.1 249.2 268M229 268C229.1 261.8 229.2 238.3 229.3 231C229.5 223.7 229.6 225.8 230.2 224C230.9 222.2 232.1 221 233.5 220.2C234.9 219.4 236.8 218.8 238.6 219C240.4 219.2 243.1 220.3 244.6 221.6C246 222.9 246.7 224.8 247.2 227C247.8 229.2 247.9 228.2 248.1 235C248.2 241.8 248.2 262.5 248.2 268M229.5 268C229.6 262.3 229.6 240.6 229.8 233.7C230 226.8 230.1 228.5 230.7 226.7C231.3 224.9 232.2 223.7 233.5 222.9C234.8 222.1 236.9 221.5 238.6 221.7C240.3 221.9 242.3 223 243.6 224.3C244.9 225.6 245.7 227.5 246.3 229.7C246.9 231.9 246.9 231.3 247.1 237.7C247.3 244.1 247.3 262.9 247.3 268M229.9 268C230 262.7 230.1 242.8 230.2 236.4C230.4 230 230.6 231.2 231.1 229.4C231.7 227.6 232.3 226.4 233.5 225.6C234.7 224.8 237.1 224.2 238.6 224.4C240.1 224.6 241.5 225.7 242.7 227C243.8 228.3 244.8 230.2 245.3 232.4C245.9 234.6 246 234.5 246.2 240.4C246.3 246.3 246.3 263.4 246.3 268M230.4 268C230.5 263.2 230.5 245.1 230.7 239.1C230.9 233.1 231.1 233.9 231.6 232.1C232.1 230.3 232.3 229.1 233.5 228.3C234.7 227.5 237.2 226.9 238.6 227.1C240 227.3 240.7 228.4 241.7 229.7C242.7 231 243.8 232.9 244.4 235.1C245 237.3 245 237.6 245.2 243.1C245.4 248.6 245.4 263.9 245.4 268M230.8 268C230.9 263.6 231 247.3 231.2 241.8C231.3 236.3 231.7 236.6 232 234.8C232.4 233 232.4 231.8 233.5 231C234.6 230.2 237.4 229.6 238.6 229.8C239.8 230 239.9 231.1 240.8 232.4C241.6 233.7 242.9 235.6 243.4 237.8C244 240 244.1 240.8 244.2 245.8C244.4 250.8 244.4 264.3 244.4 268M231.3 268C231.3 264.1 231.4 249.6 231.6 244.5C231.8 239.4 232.2 239.3 232.5 237.5C232.8 235.7 232.5 234.5 233.5 233.7C234.5 232.9 237.5 232.3 238.6 232.5C239.7 232.7 239.2 233.8 239.8 235.1C240.5 236.4 241.9 238.3 242.5 240.5C243.1 242.7 243.1 243.9 243.3 248.5C243.5 253.1 243.5 264.8 243.5 268M231.3 268C231.3 264.5 231.4 251.8 231.6 247.2C231.8 242.6 232.2 242 232.5 240.2C232.8 238.4 232.5 237.2 233.5 236.4C234.5 235.6 237.7 235 238.6 235.2C239.5 235.4 238.4 236.5 238.8 237.8C239.3 239.1 241 241 241.5 243.2C242.1 245.4 242.2 247.1 242.3 251.2C242.5 255.3 242.5 265.2 242.5 268M231.3 268C231.3 265 231.4 254.1 231.6 249.9C231.8 245.7 232.2 244.7 232.5 242.9C232.8 241.1 232.5 239.9 233.5 239.1C234.5 238.3 237.9 237.7 238.6 237.9C239.3 238.1 237.6 239.2 237.9 240.5C238.2 241.8 240 243.7 240.6 245.9C241.2 248.1 241.2 250.2 241.4 253.9C241.6 257.6 241.6 265.6 241.6 268M231.3 268C231.3 265.4 231.4 256.3 231.6 252.6C231.8 248.9 232.2 247.4 232.5 245.6C232.8 243.8 232.5 242.6 233.5 241.8C234.5 241 238 240.4 238.6 240.6C239.2 240.8 236.8 241.9 236.9 243.2C237.1 244.5 239.1 246.4 239.6 248.6C240.2 250.8 240.3 253.4 240.4 256.6C240.6 259.8 240.6 266.1 240.6 268" fill="none" stroke="#111" stroke-width="0.62" opacity="0.95"/>
<path d="M267.5 186.4C268.3 186 269.4 185.5 270.5 185.3C271.6 185.1 272.7 184.9 273.8 185.1C274.9 185.2 276 185.9 277 186.2C278 186.5 278.8 186.8 280 186.8C281.2 186.8 282.7 186.1 284 186.2C285.3 186.3 286.8 187.3 288 187.4C289.2 187.5 290.4 186.8 291.3 187C292.2 187.2 293.1 188 293.6 188.6C294.1 189.2 294.4 190.1 294.4 190.8C294.4 191.5 294 192.4 293.6 193C293.2 193.6 292.9 194.2 291.9 194.5C290.9 194.8 288.7 195.2 287.5 195.1C286.3 195 285.3 194.1 284.5 193.8C283.7 193.5 283.5 193.5 282.5 193.5C281.5 193.5 279.8 193.8 278.5 193.6C277.2 193.4 276.2 192.8 275 192.6C273.8 192.4 272.6 192.8 271.5 192.7C270.4 192.6 269.6 192.3 268.7 192C267.8 191.7 266.6 191.3 266 190.8C265.4 190.3 265.1 189.8 265 189.2C264.9 188.6 265.2 188 265.6 187.5C266 187 266.7 186.8 267.5 186.4Z" fill="none" stroke="#222" stroke-width="0.75" stroke-dasharray="9 1.2 5 0.8 12 2"/>
</g>
<rect x="258.3" y="178.6" width="53" height="20.3" fill="none" stroke="#111" stroke-width="1.0"/>
<rect x="227.4" y="164.5" width="101.4" height="104.5" fill="none" stroke="#000" stroke-width="1.3"/>
<path d="M227.7 164.5V269" stroke="#000" stroke-width="2"/>
<path d="M225 269h2.4M227.4 269v2M227.4 261.1h1.2M235 267.8v1.2M227.4 256.5h1.2M239.5 267.8v1.2M227.4 253.3h1.2M242.7 267.8v1.2M227.4 250.7h1.2M245.1 267.8v1.2M227.4 248.7h1.2M247.1 267.8v1.2M227.4 246.9h1.2M248.8 267.8v1.2M227.4 245.4h1.2M250.3 267.8v1.2M227.4 244.1h1.2M251.6 267.8v1.2M225 242.9h2.4M252.8 269v2M227.4 235h1.2M260.4 267.8v1.2M227.4 230.4h1.2M264.8 267.8v1.2M227.4 227.1h1.2M268 267.8v1.2M227.4 224.6h1.2M270.5 267.8v1.2M227.4 222.5h1.2M272.5 267.8v1.2M227.4 220.8h1.2M274.2 267.8v1.2M227.4 219.3h1.2M275.6 267.8v1.2M227.4 217.9h1.2M276.9 267.8v1.2M225 216.8h2.4M278.1 269v2M227.4 208.9h1.2M285.7 267.8v1.2M227.4 204.3h1.2M290.2 267.8v1.2M227.4 201h1.2M293.4 267.8v1.2M227.4 198.5h1.2M295.8 267.8v1.2M227.4 196.4h1.2M297.8 267.8v1.2M227.4 194.7h1.2M299.5 267.8v1.2M227.4 193.2h1.2M301 267.8v1.2M227.4 191.8h1.2M302.3 267.8v1.2M225 190.6h2.4M303.5 269v2M227.4 182.8h1.2M311.1 267.8v1.2M227.4 178.2h1.2M315.5 267.8v1.2M227.4 174.9h1.2M318.7 267.8v1.2M227.4 172.4h1.2M321.2 267.8v1.2M227.4 170.3h1.2M323.2 267.8v1.2M227.4 168.5h1.2M324.9 267.8v1.2M227.4 167h1.2M326.3 267.8v1.2M227.4 165.7h1.2M327.6 267.8v1.2M328.8 269v2M225 164.5h2.4" stroke="#000" stroke-width="0.7" fill="none"/>
<text x="225.2" y="273.3" font-size="8.8" text-anchor="end" font-family='"Liberation Serif", "DejaVu Serif", serif' font-weight="normal" >1</text>
<text x="225.2" y="247.5" font-size="8.8" text-anchor="end" font-family='"Liberation Serif", "DejaVu Serif", serif' font-weight="normal" >10</text>
<text x="225.2" y="221.6" font-size="8.8" text-anchor="end" font-family='"Liberation Serif", "DejaVu Serif", serif' font-weight="normal" >100</text>
<text x="225.2" y="195.8" font-size="8.8" text-anchor="end" font-family='"Liberation Serif", "DejaVu Serif", serif' font-weight="normal" >1000</text>
<text x="225.2" y="169.9" font-size="8.8" text-anchor="end" font-family='"Liberation Serif", "DejaVu Serif", serif' font-weight="normal" >10000</text>
<text x="228.9" y="281" font-size="9.2" text-anchor="middle" font-family='"Liberation Serif", "DejaVu Serif", serif' font-weight="normal" >1</text>
<text x="255.6" y="281" font-size="9.2" text-anchor="middle" font-family='"Liberation Serif", "DejaVu Serif", serif' font-weight="normal" >10</text>
<text x="282.2" y="281" font-size="9.2" text-anchor="middle" font-family='"Liberation Serif", "DejaVu Serif", serif' font-weight="normal" >100</text>
<text x="308.4" y="281" font-size="9.2" text-anchor="middle" font-family='"Liberation Serif", "DejaVu Serif", serif' font-weight="normal" >1000</text>
<text x="334.7" y="281" font-size="9.2" text-anchor="middle" font-family='"Liberation Serif", "DejaVu Serif", serif' font-weight="normal" >10000</text>
<text x="287.6" y="295.7" font-size="13.6" text-anchor="middle" font-family='"Liberation Serif", "DejaVu Serif", serif' font-weight="normal" textLength="27.8" lengthAdjust="spacingAndGlyphs">Sca-1</text>
<text transform="translate(205.8 218.2) rotate(-90) scale(1 1.12)" font-size="11.4" text-anchor="middle" font-family='"Liberation Serif", "DejaVu Serif", serif'>c-Kit</text>
<path d="M313 190H352" stroke="#000" stroke-width="1.1"/>
<path d="M350 185.6V194.8L359.4 190Z" fill="#000"/>
<clipPath id="cb26"><rect x="389.8" y="26.2" width="119.2" height="71.1"/></clipPath>
<path clip-path="url(#cb26)" d="M389.8 97.3L389.8 72.7L391 74.7L392.2 81.7L393.3 84.9L394.5 82.7L396 71.7L397.4 59.7L398.4 56.3L399.6 58.2L400.8 60.7L402 55.7L403.4 39.7L404.6 26.7L405.2 23.7L406.4 26.7L407.6 39.7L409 54.7L410 61.2L411.2 62.9L412.5 64.7L414 73.7L415.5 83.7L417 90.7L419 92.7L421 94.7L424 96.4L427 97.1L440 97.3L509 97.3Z" fill="#b9b9b9" stroke="#000" stroke-width="1.7" stroke-linejoin="round"/>
<rect x="389.8" y="26.2" width="119.2" height="71.1" fill="none" stroke="#000" stroke-width="1.25"/>
<text x="382.6" y="99.8" font-size="11.6" text-anchor="end" font-family='"Liberation Serif", "DejaVu Serif", serif'>0</text>
<text x="382.6" y="80.6" font-size="11.6" text-anchor="end" font-family='"Liberation Serif", "DejaVu Serif", serif'>1</text>
<text x="382.6" y="60.5" font-size="11.6" text-anchor="end" font-family='"Liberation Serif", "DejaVu Serif", serif'>2</text>
<text x="382.6" y="40.3" font-size="11.6" text-anchor="end" font-family='"Liberation Serif", "DejaVu Serif", serif'>3</text>
<path d="M387.4 97.3h2.4M387.4 77.1h2.4M387.4 56.9h2.4M387.4 36.7h2.4M389.8 97.3h1.1M389.8 93.3h1.1M389.8 89.2h1.1M389.8 85.2h1.1M389.8 81.1h1.1M389.8 77.1h1.1M389.8 73.1h1.1M389.8 69h1.1M389.8 65h1.1M389.8 60.9h1.1M389.8 56.9h1.1M389.8 52.9h1.1M389.8 48.8h1.1M389.8 44.8h1.1M389.8 40.7h1.1M389.8 36.7h1.1M389.8 32.7h1.1M389.8 28.6h1.1" stroke="#000" stroke-width="0.8" fill="none"/>
<text x="449.4" y="47" font-size="11.3" text-anchor="start" font-family='"Liberation Serif", "DejaVu Serif", serif' font-weight="normal" >Isotype</text>
<clipPath id="cb100"><rect x="389.8" y="100" width="119.2" height="71.3"/></clipPath>
<path clip-path="url(#cb100)" d="M389.8 171.3L440 171.3L444.9 170.6L447.5 167.3L449.5 162.3L451.4 157.3L452.8 150.3L454.4 141L455.6 125.3L456.6 105.3L457.4 96.3L458.4 105.3L459 120.1L460.2 127.3L461.6 133.3L463.6 141L465.5 152.3L467.3 161.8L469.2 167.8L470.8 170.3L474 170.9L477 169.9L478.9 169.3L481 170.5L484 171.2L509 171.3Z" fill="#b9b9b9" stroke="#000" stroke-width="1.7" stroke-linejoin="round"/>
<rect x="389.8" y="100" width="119.2" height="71.3" fill="none" stroke="#000" stroke-width="1.25"/>
<text x="382.6" y="173.8" font-size="11.6" text-anchor="end" font-family='"Liberation Serif", "DejaVu Serif", serif'>0</text>
<text x="382.6" y="156.4" font-size="11.6" text-anchor="end" font-family='"Liberation Serif", "DejaVu Serif", serif'>2</text>
<text x="382.6" y="119.7" font-size="11.6" text-anchor="end" font-family='"Liberation Serif", "DejaVu Serif", serif'>6</text>
<path d="M387.4 171.3h2.4M387.4 152.9h2.4M387.4 116.1h2.4M387.4 134.5h2.4M389.8 171.3h1.1M389.8 169.5h1.1M389.8 167.6h1.1M389.8 165.8h1.1M389.8 163.9h1.1M389.8 162.1h1.1M389.8 160.3h1.1M389.8 158.4h1.1M389.8 156.6h1.1M389.8 154.7h1.1M389.8 152.9h1.1M389.8 151.1h1.1M389.8 149.2h1.1M389.8 147.4h1.1M389.8 145.5h1.1M389.8 143.7h1.1M389.8 141.9h1.1M389.8 140h1.1M389.8 138.2h1.1M389.8 136.3h1.1M389.8 134.5h1.1M389.8 132.7h1.1M389.8 130.8h1.1M389.8 129h1.1M389.8 127.1h1.1M389.8 125.3h1.1M389.8 123.5h1.1M389.8 121.6h1.1M389.8 119.8h1.1M389.8 117.9h1.1M389.8 116.1h1.1M389.8 114.3h1.1M389.8 112.4h1.1M389.8 110.6h1.1M389.8 108.7h1.1M389.8 106.9h1.1M389.8 105.1h1.1M389.8 103.2h1.1M389.8 101.4h1.1" stroke="#000" stroke-width="0.8" fill="none"/>
<text x="460" y="115.6" font-size="11.3" font-family='"Liberation Serif", "DejaVu Serif", serif'>Class I K<tspan font-size="7.4" dx="0.3" dy="-3.2">k</tspan></text>
<clipPath id="cb173"><rect x="389.8" y="173.2" width="119.2" height="70.2"/></clipPath>
<path clip-path="url(#cb173)" d="M389.8 243.4L389.8 240.2L391 237.2L392.8 232.2L394.8 227.8L396.5 222.7L398 219.7L399.3 218.9L400.4 221.2L401.4 223.2L402.6 218.2L403.8 208.2L405.2 202.5L406.4 206.2L407.6 211.4L408.8 206.2L410 202.2L411.2 201L412.7 199.5L413.8 192.2L414.8 181.2L415.7 175L416.6 180.2L417.6 190.2L418.7 198L420 206.2L421.6 214.4L422.6 222.2L423.7 229.2L425.5 230.7L427 230.2L428.2 230.2L429.6 232.7L431.2 236.7L433.5 239L436.5 240.2L439 240.4L441 239.7L443 241L445.5 242.2L448.5 243.2L460 243.4L509 243.4Z" fill="#b9b9b9" stroke="#000" stroke-width="1.7" stroke-linejoin="round"/>
<rect x="389.8" y="173.2" width="119.2" height="70.2" fill="none" stroke="#000" stroke-width="1.25"/>
<text x="382.6" y="243.8" font-size="11.6" text-anchor="end" font-family='"Liberation Serif", "DejaVu Serif", serif'>0</text>
<text x="382.6" y="227.7" font-size="11.6" text-anchor="end" font-family='"Liberation Serif", "DejaVu Serif", serif'>2</text>
<text x="382.6" y="207.3" font-size="11.6" text-anchor="end" font-family='"Liberation Serif", "DejaVu Serif", serif'>4</text>
<text x="382.6" y="186" font-size="11.6" text-anchor="end" font-family='"Liberation Serif", "DejaVu Serif", serif'>6</text>
<path d="M387.4 243.4h2.4M387.4 222.6h2.4M387.4 201.8h2.4M387.4 181h2.4M389.8 243.4h1.1M389.8 241.3h1.1M389.8 239.2h1.1M389.8 237.2h1.1M389.8 235.1h1.1M389.8 233h1.1M389.8 230.9h1.1M389.8 228.8h1.1M389.8 226.8h1.1M389.8 224.7h1.1M389.8 222.6h1.1M389.8 220.5h1.1M389.8 218.4h1.1M389.8 216.4h1.1M389.8 214.3h1.1M389.8 212.2h1.1M389.8 210.1h1.1M389.8 208h1.1M389.8 206h1.1M389.8 203.9h1.1M389.8 201.8h1.1M389.8 199.7h1.1M389.8 197.6h1.1M389.8 195.6h1.1M389.8 193.5h1.1M389.8 191.4h1.1M389.8 189.3h1.1M389.8 187.2h1.1M389.8 185.2h1.1M389.8 183.1h1.1M389.8 181h1.1M389.8 178.9h1.1M389.8 176.8h1.1M389.8 174.8h1.1" stroke="#000" stroke-width="0.8" fill="none"/>
<text x="456" y="194" font-size="11.3" font-family='"Liberation Serif", "DejaVu Serif", serif'>I-A<tspan font-size="7.4" dx="0.3" dy="-3.2">k</tspan></text>
<clipPath id="cb245"><rect x="389.8" y="245.4" width="119.2" height="71.1"/></clipPath>
<path clip-path="url(#cb245)" d="M389.8 316.5L389.8 305.5L391.5 302.5L393.3 299.5L395 297.8L396.3 296.5L398.6 291.5L400.6 284.5L402.2 275.5L403.5 268.3L404.6 262.5L405.6 259.3L406.4 258.5L407.6 257.9L408.6 252.5L409.7 246.8L410.8 249L411.8 253.4L412.6 260.5L413.6 271.3L415 282.5L416.3 290.5L418 294L420.1 296.5L422 301L423.7 305.5L425.4 304.9L427 304.1L428.6 306L430.3 309.5L432 311.5L435 314.3L438 316L444 316.3L448 315.5L450 314.3L452 315.7L455 316.5L509 316.5Z" fill="#b9b9b9" stroke="#000" stroke-width="1.7" stroke-linejoin="round"/>
<rect x="389.8" y="245.4" width="119.2" height="71.1" fill="none" stroke="#000" stroke-width="1.25"/>
<text x="382.6" y="319.4" font-size="11.6" text-anchor="end" font-family='"Liberation Serif", "DejaVu Serif", serif'>0</text>
<text x="382.6" y="307" font-size="11.6" text-anchor="end" font-family='"Liberation Serif", "DejaVu Serif", serif'>1</text>
<text x="382.6" y="293.9" font-size="11.6" text-anchor="end" font-family='"Liberation Serif", "DejaVu Serif", serif'>2</text>
<text x="382.6" y="280.9" font-size="11.6" text-anchor="end" font-family='"Liberation Serif", "DejaVu Serif", serif'>3</text>
<text x="382.6" y="267.9" font-size="11.6" text-anchor="end" font-family='"Liberation Serif", "DejaVu Serif", serif'>4</text>
<text x="382.6" y="254.8" font-size="11.6" text-anchor="end" font-family='"Liberation Serif", "DejaVu Serif", serif'>5</text>
<path d="M387.4 316.5h2.4M387.4 303.4h2.4M387.4 290.4h2.4M387.4 277.4h2.4M387.4 264.3h2.4M387.4 251.2h2.4M389.8 316.5h1.1M389.8 313.9h1.1M389.8 311.3h1.1M389.8 308.7h1.1M389.8 306.1h1.1M389.8 303.4h1.1M389.8 300.8h1.1M389.8 298.2h1.1M389.8 295.6h1.1M389.8 293h1.1M389.8 290.4h1.1M389.8 287.8h1.1M389.8 285.2h1.1M389.8 282.6h1.1M389.8 280h1.1M389.8 277.4h1.1M389.8 274.7h1.1M389.8 272.1h1.1M389.8 269.5h1.1M389.8 266.9h1.1M389.8 264.3h1.1M389.8 261.7h1.1M389.8 259.1h1.1M389.8 256.5h1.1M389.8 253.9h1.1M389.8 251.2h1.1M389.8 248.6h1.1M389.8 246h1.1" stroke="#000" stroke-width="0.8" fill="none"/>
<text x="454" y="266.3" font-size="11.3" font-family='"Liberation Serif", "DejaVu Serif", serif'>I-E<tspan font-size="7.4" dx="0.3" dy="-3.2">k</tspan></text>
<clipPath id="cb319"><rect x="389.8" y="319.8" width="119.2" height="71"/></clipPath>
<path clip-path="url(#cb319)" d="M389.8 390.8L418 390.8L420.5 389.7L422 386.7L423.5 384.7L425 384.4L426.3 386.2L427.5 385.7L429 378.2L431.3 366.2L433 352.2L434.2 340.2L434.8 338.4L436 340.7L437.2 340.2L438.4 328.2L439.6 320.2L440.6 322.2L441.6 336.2L442.8 350.2L444 358.2L445.5 363.2L446.8 372.2L447.8 374.7L449 373.8L450 376.2L451.2 382.7L452.8 388L455 390.2L458 390.8L509 390.8Z" fill="#b9b9b9" stroke="#000" stroke-width="1.7" stroke-linejoin="round"/>
<rect x="389.8" y="319.8" width="119.2" height="71" fill="none" stroke="#000" stroke-width="1.25"/>
<text x="382.6" y="392.9" font-size="11.6" text-anchor="end" font-family='"Liberation Serif", "DejaVu Serif", serif'>0</text>
<text x="382.6" y="374.7" font-size="11.6" text-anchor="end" font-family='"Liberation Serif", "DejaVu Serif", serif'>2</text>
<text x="382.6" y="355" font-size="11.6" text-anchor="end" font-family='"Liberation Serif", "DejaVu Serif", serif'>4</text>
<text x="382.6" y="335.1" font-size="11.6" text-anchor="end" font-family='"Liberation Serif", "DejaVu Serif", serif'>6</text>
<path d="M387.4 390.8h2.4M387.4 371.4h2.4M387.4 351.9h2.4M387.4 332.5h2.4M389.8 390.8h1.1M389.8 388.9h1.1M389.8 386.9h1.1M389.8 385h1.1M389.8 383h1.1M389.8 381.1h1.1M389.8 379.1h1.1M389.8 377.2h1.1M389.8 375.2h1.1M389.8 373.3h1.1M389.8 371.4h1.1M389.8 369.4h1.1M389.8 367.5h1.1M389.8 365.5h1.1M389.8 363.6h1.1M389.8 361.6h1.1M389.8 359.7h1.1M389.8 357.8h1.1M389.8 355.8h1.1M389.8 353.9h1.1M389.8 351.9h1.1M389.8 350h1.1M389.8 348h1.1M389.8 346.1h1.1M389.8 344.1h1.1M389.8 342.2h1.1M389.8 340.3h1.1M389.8 338.3h1.1M389.8 336.4h1.1M389.8 334.4h1.1M389.8 332.5h1.1M389.8 330.5h1.1M389.8 328.6h1.1M389.8 326.6h1.1M389.8 324.7h1.1M389.8 322.8h1.1M389.8 320.8h1.1" stroke="#000" stroke-width="0.8" fill="none"/>
<text x="452.8" y="336" font-size="11.3" font-family='"Liberation Serif", "DejaVu Serif", serif'>Class I D<tspan font-size="7.4" dx="0.3" dy="-3.2">k</tspan></text>
<path d="M427.5 26.3V390.6" stroke="#222" stroke-width="0.9" stroke-dasharray="1 0.8" fill="none"/>
<text x="391.3" y="402.2" font-size="11.5" text-anchor="middle" font-family='"Liberation Serif", "DejaVu Serif", serif' font-weight="normal" >1</text>
<text x="422.6" y="402.2" font-size="11.5" text-anchor="middle" font-family='"Liberation Serif", "DejaVu Serif", serif' font-weight="normal" >10</text>
<text x="442.9" y="402.2" font-size="11.5" text-anchor="middle" font-family='"Liberation Serif", "DejaVu Serif", serif' font-weight="normal" >100</text>
<text x="474.6" y="402.2" font-size="11.5" text-anchor="middle" font-family='"Liberation Serif", "DejaVu Serif", serif' font-weight="normal" >1000</text>
<text x="504.4" y="402.2" font-size="11.5" text-anchor="middle" font-family='"Liberation Serif", "DejaVu Serif", serif' font-weight="normal" >10000</text>
</svg>
</body></html>
